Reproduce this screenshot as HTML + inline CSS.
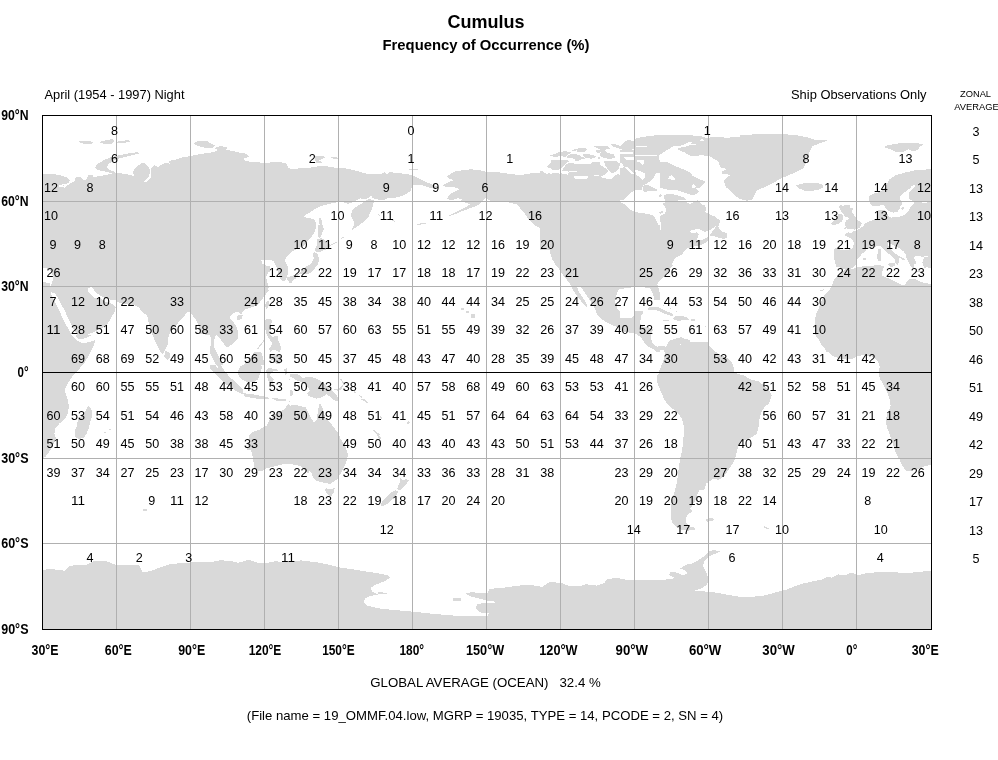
<!DOCTYPE html>
<html><head><meta charset="utf-8"><title>Cumulus - Frequency of Occurrence</title>
<style>
html,body{margin:0;padding:0;background:#fff}
body{width:998px;height:760px;position:relative;overflow:hidden;font-family:"Liberation Sans",sans-serif;color:#000}
.t{position:absolute;white-space:nowrap;line-height:1}
</style></head><body>
<svg width="998" height="760" viewBox="0 0 998 760" style="position:absolute;left:0;top:0">
<defs><clipPath id="c"><rect x="43" y="116" width="888" height="513"/></clipPath></defs>
<g clip-path="url(#c)" shape-rendering="crispEdges"><g fill="#d9d9d9"><polygon points="77.1,141.7 86.1,140.7 94.1,142.1 91.1,144.1 83.1,143.7"/><polygon points="99.1,142.1 108.1,139.7 113.1,139.1 114.5,141.7 110.1,144.5 104.1,144.1"/><polygon points="117.2,141.7 128.2,140.1 129.8,141.7 122.2,143.3 117.8,143.3"/><polygon points="95.1,167.1 98.1,163.7 104.1,160.1 111.1,157.1 120.2,155.1 130.2,153.1 138.2,152.1 138.6,153.7 130.2,155.7 120.2,158.1 114.5,160.5 109.1,163.3 107.1,167.1 109.7,170.1 114.5,171.7 116.2,173.7 112.1,173.3 106.1,171.7 100.1,170.5 96.1,169.1"/><polygon points="193.3,143.7 198.3,140.5 206.3,140.5 210.3,143.1 215.4,145.7 212.3,147.7 204.3,147.7 198.3,146.1"/><polygon points="214.3,148.1 220.4,146.1 227.4,147.1 226.4,149.7 218.4,150.1"/><polygon points="40.0,173.7 52.0,173.7 60.0,175.3 67.1,177.7 70.1,180.5 68.1,183.3 62.4,184.5 65.7,186.2 70.1,183.7 75.1,180.5 75.7,177.3 81.1,176.9 83.1,180.1 87.1,179.3 87.7,175.3 92.1,174.5 93.3,176.9 100.1,176.1 108.1,174.5 114.5,172.9 120.2,173.3 126.2,174.1 131.2,175.3 134.6,176.1 132.6,172.5 135.2,168.1 140.2,164.1 143.4,162.5 146.2,164.9 149.0,167.7 151.4,168.1 154.6,165.3 158.2,166.9 160.6,164.9 166.3,162.5 170.3,164.1 168.7,160.9 176.3,159.5 182.3,157.3 190.3,156.1 198.3,154.5 206.3,153.1 214.3,152.1 217.2,150.1 224.4,149.5 232.4,150.9 240.0,152.9 240.0,259.9 40.0,259.9"/></g><g fill="#fff"><polygon points="149.4,168.1 151.0,168.5 151.4,173.1 150.6,177.7 148.2,180.5 145.0,182.5 144.2,181.3 147.0,178.9 149.2,176.1 149.8,172.1"/><polygon points="59.6,184.9 66.1,186.0 64.8,187.6 59.0,187.0"/></g><g fill="#d9d9d9"><polygon points="240.0,152.9 246.0,153.7 249.0,156.5 244.0,158.5 245.0,161.3 252.0,161.7 260.0,162.5 270.1,162.5 278.1,161.7 287.1,163.7 288.1,168.1 294.1,169.3 300.1,168.1 308.1,168.1 314.1,166.9 320.2,166.1 328.2,166.5 338.2,168.1 346.2,168.5 354.2,170.1 364.2,173.3 372.3,174.1 380.3,174.5 384.3,172.1 387.3,174.1 389.3,172.1 400.3,173.3 408.3,174.1 416.4,177.1 421.4,179.7 427.4,182.5 432.4,184.5 437.4,186.6 435.4,188.6 428.4,187.4 420.4,184.5 414.3,184.5 411.3,188.2 410.3,191.2 404.3,195.2 398.3,197.2 392.3,198.2 388.3,197.8 384.3,200.2 380.3,199.8 376.3,199.2 372.3,198.2 371.3,195.2 368.3,198.2 364.2,199.2 360.2,198.2 357.2,199.8 352.2,202.6 348.2,203.8 344.2,202.6 340.2,201.8 335.2,202.6 328.2,204.2 322.2,205.8 316.2,208.2 310.1,212.2 305.1,215.2 304.1,217.2 309.1,218.2 314.1,219.2 316.2,223.2 315.8,230.2 314.5,238.3 310.1,244.3 306.1,248.3 300.1,252.3 294.1,255.3 290.1,257.3 284.1,259.9 240.0,259.9"/><polygon points="350.8,214.0 353.0,209.4 357.6,205.8 362.2,203.2 368.3,199.2 373.9,199.8 373.3,204.2 371.9,209.4 369.7,213.2 368.3,217.8 365.3,220.0 362.0,223.0 359.0,225.2 356.0,227.4 352.4,230.0 351.6,229.0 353.8,226.0 354.2,223.0 353.0,220.0 351.6,217.0"/><polygon points="319.2,218.2 321.2,218.2 322.2,224.2 323.2,230.2 324.2,235.3 322.6,238.3 321.2,234.2 320.2,228.2 319.2,222.2"/><polygon points="315.2,156.5 322.2,155.7 325.2,157.3 322.2,158.9 319.2,160.5 322.2,162.5 316.2,162.5 314.5,159.3"/><polygon points="329.8,156.5 338.2,157.7 339.2,158.9 333.2,158.9"/><polygon points="409.3,169.3 417.4,168.5 418.0,170.1 410.3,170.5"/><polygon points="377.9,213.8 380.3,215.0 379.9,216.2 377.5,215.0"/><polygon points="392.3,219.8 395.5,221.0 394.7,221.8 391.9,220.6"/><polygon points="416.4,224.2 420.4,223.4 426.4,222.8 426.4,223.8 420.4,224.6 416.8,225.2"/></g><g fill="#d9d9d9"><polygon points="456.0,171.1 470.1,169.3 480.1,170.1 486.5,172.1 500.1,172.5 508.1,173.7 520.2,175.1 528.2,173.7 540.2,172.5 552.2,172.5 560.2,173.1 560.2,259.9 552.2,259.9 551.2,252.3 552.2,246.3 553.2,240.3 550.2,234.2 546.2,230.2 540.2,228.2 534.2,225.2 529.2,220.2 525.2,214.2 520.2,208.2 516.2,204.2 508.1,202.2 498.1,201.2 490.1,200.6 485.1,198.2 483.1,200.2 480.1,203.2 477.1,205.8 470.1,208.2 462.0,211.2 454.0,214.6 448.0,216.2 452.0,214.2 458.0,211.2 464.0,208.2 470.1,204.2 466.1,202.6 460.0,202.2 462.0,199.2 458.0,198.2 452.0,200.2 447.0,199.2 448.0,196.2 451.0,193.2 456.0,191.2 460.0,189.2 454.0,187.2 446.0,187.2 443.0,185.2 448.0,182.5 454.0,180.1 450.0,179.1 447.0,176.1 452.0,173.1"/><polygon points="560.2,230.2 640.0,230.2 640.0,259.9 560.2,259.9"/></g><g fill="#d9d9d9"><polygon points="540.0,171.5 549.0,173.6 552.0,172.5 559.9,173.0 568.9,172.3 570.1,169.8 564.0,168.5 562.4,166.1 564.0,163.0 568.9,162.2 576.1,164.3 585.7,164.9 591.6,162.4 599.0,162.2 600.1,164.9 603.8,167.2 607.3,169.8 608.0,172.0 604.9,174.6 601.2,176.3 602.5,178.4 612.1,178.7 614.5,176.3 617.6,173.6 620.8,175.5 619.5,179.4 623.0,177.5 624.8,174.6 623.0,172.0 619.4,170.2 623.0,166.1 626.6,164.9 631.4,169.8 634.4,171.5 636.2,169.3 642.6,168.5 645.8,162.1 652.2,160.5 659.4,162.1 661.8,166.9 666.7,168.5 673.1,172.0 668.3,174.1 661.8,173.3 658.6,175.7 657.0,179.7 652.2,181.3 645.8,181.0 644.2,184.5 646.6,187.7 642.6,189.6 637.8,190.9 634.6,191.7 629.0,194.1 624.2,198.1 623.4,202.9 627.4,204.5 631.4,208.6 637.8,211.0 644.2,213.7 650.6,215.0 654.1,216.6 655.8,219.8 657.8,223.8 660.2,224.9 660.2,249.9 540.0,249.9"/><polygon points="547.9,166.1 550.9,160.6 562.8,160.1 562.8,163.0 561.0,166.1 559.9,169.8 552.0,169.8"/><polygon points="550.4,155.3 556.0,153.7 560.8,152.4 561.6,154.8 557.6,156.5 552.8,156.9"/><polygon points="560.8,151.6 574.5,148.9 586.5,148.4 587.3,150.8 578.5,151.6 576.1,154.0 583.3,154.0 588.1,153.2 594.5,155.7 595.3,158.5 588.1,159.7 580.1,159.7 572.1,158.9 565.7,156.5 562.4,154.0"/><polygon points="594.5,146.0 607.3,145.7 610.5,148.4 604.1,150.0 607.3,153.2 613.7,154.0 615.4,157.3 610.5,158.9 604.1,158.1 599.3,155.7 600.9,152.4 596.9,150.0"/><polygon points="610.5,143.6 615.4,144.1 620.2,146.0 623.4,142.8 627.4,139.9 633.8,140.9 633.8,149.2 629.8,150.0 623.4,150.0 618.6,148.4 613.7,146.8"/><polygon points="604.1,161.3 615.4,160.5 620.2,163.7 618.6,168.5 615.4,172.0 611.3,173.3 608.1,170.1 605.7,166.1"/><polygon points="634.6,141.2 636.2,138.0 652.2,135.6 668.3,134.8 687.5,134.8 703.4,136.4 707.4,138.3 705.0,140.6 698.7,141.9 690.7,143.1 684.3,146.0 677.9,148.9 673.1,151.6 668.3,154.0 663.4,155.7 659.4,158.9 652.2,159.7 645.8,158.5 639.4,158.9 636.2,160.5 634.6,158.9 634.6,149.2"/><polygon points="644.0,162.9 652.1,161.3 660.1,161.3 668.1,164.5 676.1,167.7 684.1,170.1 690.5,174.1 697.0,178.1 703.4,180.5 705.8,182.9 701.8,185.3 697.0,187.7 699.4,191.7 695.4,193.3 690.5,190.9 687.3,193.3 683.3,191.7 679.3,187.7 675.3,184.5 674.5,178.1 671.3,174.1 664.9,172.0 658.5,172.0 654.5,174.9 648.9,176.5 644.0,173.3 642.4,167.7"/><polygon points="620.0,161.3 629.6,160.5 636.0,162.1 642.4,167.7 644.0,173.3 648.9,176.5 654.5,174.9 654.5,182.9 648.9,185.3 644.0,184.5 639.2,182.9 636.0,178.1 629.6,178.1 626.4,171.7 620.0,170.1"/><polygon points="644.0,185.3 652.1,184.5 660.1,186.1 660.9,189.6 655.3,191.7 647.3,190.9 643.2,188.5"/><polygon points="663.3,194.9 672.9,194.1 684.1,195.7 687.3,200.5 692.1,202.1 697.0,201.3 700.2,203.7 705.0,208.6 707.4,213.4 714.6,216.6 719.4,219.8 716.2,223.8 713.0,226.2 716.2,229.4 722.6,232.6 725.8,235.8 726.6,239.0 722.6,240.6 716.2,239.0 711.4,242.2 709.8,245.4 706.6,247.8 704.2,249.9 660.9,249.9 660.9,224.9 662.5,222.2 663.3,218.2 666.2,215.0 667.3,211.0 664.9,207.0 662.0,202.9 664.1,201.3 664.9,197.3"/></g><g fill="#fff"><polygon points="635.6,172.0 641.0,170.9 644.2,174.1 643.4,178.1 639.4,180.0 636.2,178.1"/><polygon points="637.8,154.0 658.6,154.0 658.6,155.2 637.8,155.2"/><polygon points="636.2,146.0 646.6,146.0 646.6,147.0 636.2,147.0"/></g><g fill="#d9d9d9"><polygon points="709.1,139.1 724.2,137.1 744.2,135.1 764.2,133.6 780.3,134.0 796.3,135.1 806.3,137.1 814.3,139.7 828.4,140.1 820.4,143.1 812.3,146.1 810.3,150.1 808.3,156.1 806.3,162.1 803.3,168.1 798.3,171.1 792.3,173.7 784.3,177.1 776.3,181.1 768.3,185.2 762.2,188.2 757.2,190.2 754.2,195.2 752.2,200.2 746.2,200.6 740.2,199.2 734.2,195.2 729.2,190.2 725.2,184.1 724.2,179.1 727.2,174.1 722.2,172.1 721.2,168.1 717.2,162.5 714.1,158.1 709.1,155.1 707.1,149.1 708.1,143.1"/><polygon points="796.3,185.2 804.3,183.1 814.3,182.5 821.4,184.1 823.4,187.2 818.4,189.8 810.3,190.6 803.3,189.8 798.3,188.2"/></g><g fill="#d9d9d9"><polygon points="796.0,185.3 802.4,183.7 812.1,182.9 820.1,183.7 823.3,186.1 820.1,189.0 812.1,190.9 804.0,190.6 799.2,188.0"/><polygon points="884.2,146.0 892.2,144.4 905.1,142.5 917.9,143.1 923.5,144.7 919.5,146.8 917.9,150.0 913.1,151.6 908.3,149.2 901.8,152.4 895.4,151.6 890.6,149.2 885.8,148.0"/><polygon points="940.0,168.5 930.7,169.3 921.1,169.8 911.5,172.0 901.8,173.6 895.4,175.7 890.6,178.1 889.0,181.3 884.2,185.3 879.4,189.3 873.0,193.3 869.8,195.7 869.0,200.5 871.4,204.5 874.6,207.0 879.4,206.6 884.2,208.6 889.0,210.2 892.2,213.4 895.4,212.6 898.6,208.6 900.2,205.4 903.4,202.9 901.8,198.9 900.2,194.9 903.4,191.7 908.3,189.3 911.5,186.1 916.3,184.5 921.1,182.9 917.9,186.9 913.1,190.1 909.9,194.1 911.5,198.1 916.3,200.2 924.3,200.5 930.7,200.2 940.0,200.2"/><polygon points="857.0,226.2 861.8,223.8 869.8,221.4 876.2,219.8 882.6,218.5 885.0,217.4 884.2,210.2 886.6,208.2 889.8,210.2 890.3,217.4 892.2,217.9 901.8,215.0 909.9,213.4 913.1,208.6 916.3,204.5 921.1,202.9 930.7,202.1 940.0,202.1 940.0,249.9 832.9,249.9 844.1,245.4 847.3,242.2 844.1,239.0 844.1,235.8 850.5,233.4 855.4,230.2"/><polygon points="840.1,206.2 847.3,204.1 850.5,206.2 848.9,210.2 852.1,213.4 855.4,217.4 858.6,221.4 860.2,224.6 855.4,227.8 848.9,228.6 844.1,227.0 847.3,224.6 845.7,221.4 848.9,219.0 844.9,217.4 843.3,213.4 840.9,210.2"/><polygon points="832.9,217.4 837.7,215.0 841.7,216.6 841.7,221.4 837.7,224.6 832.9,223.8 831.3,220.6"/></g><g fill="#d9d9d9"><polygon points="40.0,255.0 240.0,255.0 240.0,309.1 232.4,312.1 229.4,317.1 231.4,322.1 235.4,324.1 240.0,325.1 240.0,359.2 237.4,363.2 232.4,361.2 228.4,356.2 226.4,351.2 227.4,346.2 224.4,341.2 221.4,338.2 217.4,336.2 214.3,339.2 214.7,345.2 216.4,351.2 218.8,359.2 221.4,366.2 225.4,372.2 230.4,377.6 235.4,381.7 238.4,385.3 235.4,385.7 230.4,382.3 225.4,377.2 220.4,371.2 216.4,364.2 213.9,356.2 211.9,349.2 209.9,341.2 207.3,336.2 202.7,335.2 200.3,332.2 198.3,325.1 195.3,319.1 192.3,315.1 190.3,311.5 187.3,312.1 184.3,316.1 180.3,320.1 176.3,325.1 170.3,331.2 168.3,337.2 168.3,343.2 165.3,349.2 162.6,354.2 160.2,351.2 158.2,347.2 155.2,341.2 152.2,334.2 150.2,327.1 148.2,321.1 147.2,315.1 143.2,313.1 140.2,309.1 138.2,305.1 132.2,304.1 124.2,302.7 116.2,302.1 110.1,300.1 106.1,298.1 100.1,296.1 95.1,292.1 91.7,287.5 88.1,288.7 91.1,294.1 96.1,299.1 101.1,302.1 108.1,300.1 112.1,303.1 115.8,307.5 115.2,313.1 111.1,319.1 106.1,325.1 100.1,330.2 94.1,334.2 86.1,338.2 79.1,339.2 76.1,336.2 72.1,329.1 68.1,319.1 64.0,312.1 60.0,303.1 56.0,294.1 53.0,292.7 51.0,287.1 52.0,276.0 48.0,273.0 42.8,272.0 40.0,272.0"/><polygon points="40.0,283.1 42.8,283.1 47.0,282.1 51.0,280.1 52.4,285.1 51.0,293.1 55.0,301.1 59.0,310.1 63.0,318.1 67.1,327.1 71.1,334.2 76.1,340.2 83.1,343.2 91.1,341.6 95.7,339.6 93.1,347.2 89.1,355.2 84.1,363.2 79.1,369.2 73.1,375.2 69.1,381.3 65.1,389.3 64.0,395.3 65.1,404.9 40.0,404.9"/><polygon points="165.3,351.2 169.3,352.2 170.3,357.2 167.3,360.2 164.2,357.2"/></g><g fill="#d9d9d9"><polygon points="230.0,235.0 313.4,235.0 313.4,239.8 310.0,244.0 306.0,248.0 300.1,252.0 294.0,255.0 290.0,257.0 285.3,260.3 286.1,263.9 287.4,269.5 286.4,276.7 283.2,281.2 278.9,279.6 277.3,273.5 276.2,267.1 275.7,262.6 273.0,259.4 269.3,256.2 264.5,256.6 261.3,259.8 262.1,263.9 266.1,265.5 270.9,265.8 274.9,267.9 272.0,270.6 268.2,272.2 266.1,276.7 266.9,281.5 268.8,286.3 267.7,291.1 266.1,295.9 264.5,300.7 262.1,305.5 258.9,309.5 254.0,312.0 249.2,313.6 244.4,315.2 239.6,317.6 237.2,321.6 238.8,325.1 236.4,327.2 233.2,324.8 230.0,324.0"/><polygon points="317.4,250.2 319.8,254.2 318.2,260.7 315.0,266.3 311.0,269.5 305.4,271.1 300.5,273.5 295.7,275.1 291.7,277.0 288.5,278.6 287.4,281.2 290.6,283.4 293.3,280.2 297.3,278.0 302.9,276.4 308.6,274.0 312.6,271.6 316.6,267.5 319.1,262.6 320.7,256.2 320.1,251.0"/><polygon points="313.4,235.0 323.0,235.0 326.2,238.2 321.4,242.2 316.6,243.0 314.2,239.8"/><polygon points="267.2,307.9 270.1,306.3 270.9,311.2 268.5,315.2 266.9,312.0"/></g><g fill="#d9d9d9"><polygon points="200.0,300.0 243.1,300.0 240.1,306.0 233.1,310.0 228.5,315.0 230.1,322.0 235.1,326.1 239.1,332.1 240.1,340.1 239.1,347.1 235.1,352.1 230.1,354.1 226.1,353.1 222.0,348.1 219.0,343.1 215.0,340.1 212.0,343.1 211.0,350.1 213.0,358.1 215.0,364.1 218.0,370.1 221.0,375.2 225.1,379.2 228.1,382.2 230.1,385.2 227.1,385.2 224.0,382.2 219.0,377.2 214.0,370.1 210.0,362.1 208.0,354.1 206.0,347.1 204.0,340.1 200.0,338.1"/><polygon points="237.1,317.6 241.7,316.8 242.5,320.0 238.5,321.2"/><polygon points="210.0,364.1 217.0,367.1 224.0,373.1 232.1,380.2 239.1,385.2 243.1,389.2 242.5,394.2 236.1,391.2 228.1,385.2 220.0,378.2 214.0,372.1 210.0,368.1"/><polygon points="243.1,393.2 252.1,394.2 260.1,395.8 268.1,397.2 269.1,399.2 260.1,399.2 251.1,397.8 244.1,396.2"/><polygon points="271.1,398.2 280.2,398.6 288.2,399.8 284.2,401.2 276.2,400.6"/><polygon points="288.2,401.2 296.2,398.2 298.2,399.8 291.2,403.2"/><polygon points="238.1,371.1 240.1,366.1 245.1,364.1 250.1,360.1 255.1,355.1 260.1,352.5 262.5,356.1 260.1,362.1 262.1,367.1 260.1,373.1 258.1,379.2 253.1,382.6 247.1,382.2 241.1,379.2 238.5,375.2"/><polygon points="266.1,370.1 269.1,368.1 277.2,369.1 278.2,371.1 271.1,371.7 270.1,376.2 274.1,379.2 272.1,382.2 275.2,386.2 271.1,386.2 269.1,382.2 267.1,377.2"/><polygon points="284.2,369.1 286.6,368.1 287.2,373.1 285.2,375.2"/><polygon points="288.2,379.2 296.2,378.2 298.2,379.8 290.2,380.6"/><polygon points="265.1,320.0 270.1,319.0 272.1,325.1 271.1,332.1 274.1,337.1 279.2,341.1 277.2,343.1 272.1,340.1 268.1,335.1 266.1,328.1"/><polygon points="274.1,343.1 280.2,344.1 281.2,349.1 277.2,350.1"/><polygon points="277.2,351.1 284.2,350.1 287.2,355.1 285.2,360.1 280.2,360.1 277.2,357.1 274.1,355.1"/><polygon points="260.1,350.1 267.1,343.1 268.1,344.5 261.7,351.7"/><polygon points="292.2,375.2 300.2,373.1 306.2,376.2 312.2,377.2 320.2,379.2 328.3,382.2 334.3,386.2 338.3,390.2 341.3,395.2 340.3,399.2 334.3,397.2 330.3,394.2 324.2,394.2 320.2,396.2 316.2,394.2 311.2,391.2 308.2,386.2 302.2,383.2 297.2,382.2 294.2,379.2"/><polygon points="342.3,380.2 348.3,379.2 352.3,382.2 349.3,385.2 343.3,383.2"/><polygon points="358.3,386.2 361.3,388.2 360.3,389.8 357.9,387.8"/><polygon points="363.3,392.2 367.3,396.2 368.3,399.2 365.9,398.2 362.7,393.8"/><polygon points="374.3,430.3 377.4,433.3 381.4,438.3 380.0,439.1 376.4,435.3 373.5,431.5"/><polygon points="247.1,449.9 249.1,440.3 253.1,433.3 260.1,429.3 267.1,425.3 269.1,420.2 275.2,414.2 280.2,412.2 284.2,409.2 288.2,404.2 294.2,406.2 300.2,405.2 304.2,408.2 302.2,413.2 306.2,417.2 312.2,421.2 316.2,422.2 318.2,414.2 320.2,406.2 321.8,403.2 324.2,409.2 328.3,416.2 331.3,423.2 336.3,428.3 338.3,436.3 340.3,444.3 341.3,449.9"/></g><g fill="#d9d9d9"><polygon points="543.0,230.0 545.0,236.0 548.0,245.0 550.0,252.0 552.0,258.1 555.0,264.1 560.0,270.1 563.0,275.1 567.1,280.1 570.1,284.1 573.1,290.1 577.1,296.1 581.1,301.1 585.1,306.2 587.7,307.2 586.1,303.1 583.1,298.1 579.1,292.1 577.1,287.1 579.1,286.1 583.1,290.1 587.1,296.1 591.1,302.1 595.1,309.2 597.1,314.2 600.1,318.2 606.1,322.2 612.1,325.2 620.2,328.2 626.2,330.2 631.2,332.2 634.2,333.2 638.2,334.2 642.2,338.2 646.2,341.2 650.2,343.2 653.2,348.2 658.2,351.2 660.2,348.2 664.2,348.2 668.3,350.2 670.3,354.2 668.3,360.3 665.3,366.3 662.2,372.3 660.2,379.9 740.0,379.9 740.0,365.3 737.4,362.3 732.4,357.3 727.4,352.2 722.4,348.2 718.4,345.2 714.3,342.2 706.3,342.2 698.3,340.2 694.3,339.2 691.3,337.2 688.3,340.2 684.3,339.2 680.3,342.2 676.3,346.2 672.3,345.2 668.3,347.2 662.2,346.2 658.2,343.2 656.2,338.2 657.2,332.2 656.2,328.2 652.2,326.2 644.2,326.2 641.2,324.2 640.2,321.2 642.2,316.2 643.2,310.2 640.2,309.2 635.2,310.2 632.2,313.2 626.2,314.2 620.2,312.2 617.2,308.2 615.2,302.1 616.2,296.1 618.2,290.1 620.2,289.1 626.2,288.1 634.2,287.1 642.2,287.1 648.2,288.1 652.2,288.1 655.2,290.1 657.2,296.1 658.6,300.5 660.2,297.1 659.2,290.1 657.2,284.1 660.2,280.1 665.3,275.1 670.3,268.1 675.3,263.1 680.3,258.1 684.3,254.0 688.3,249.0 692.3,244.0 694.3,242.4 694.3,230.0"/><polygon points="648.2,311.2 654.2,309.2 662.2,310.2 670.3,313.2 676.3,316.2 673.3,317.8 666.3,315.8 658.2,313.2 650.2,313.2"/><polygon points="678.3,316.2 686.3,315.8 692.3,318.2 688.3,320.6 680.3,320.2 677.3,318.2"/><polygon points="665.3,320.2 670.3,320.2 669.9,321.8 665.3,321.6"/><polygon points="695.3,319.2 699.3,319.2 699.3,320.6 695.3,320.6"/><polygon points="710.3,341.2 712.7,341.2 712.3,343.2 710.3,342.8"/></g><g fill="#d9d9d9"><polygon points="620.0,242.9 700.2,244.5 695.4,245.3 690.5,246.9 687.3,249.3 684.1,251.7 680.9,254.1 675.3,258.1 671.3,262.1 668.1,267.0 664.9,271.8 660.9,277.4 656.1,283.0 654.5,287.8 658.5,294.2 660.1,302.2 657.7,307.0 655.3,302.2 652.9,294.2 649.7,287.8 644.0,286.5 620.0,286.2"/><polygon points="695.4,245.3 700.2,244.5 705.0,242.1 707.4,239.7 709.8,236.5 716.2,234.9 722.6,235.7 726.6,238.1 724.2,240.0 717.8,239.4 713.0,240.3 709.8,242.3 706.6,244.5 704.2,250.0 695.4,250.0"/></g><g fill="#fff"><polygon points="689.3,233.0 693.7,230.1 700.2,228.5 705.0,229.3 707.4,232.0 709.8,236.5 706.6,238.9 702.6,236.2 698.6,238.1 693.7,235.7"/></g><g fill="#d9d9d9"><polygon points="663.1,346.0 666.1,344.0 672.1,341.0 680.1,340.0 708.2,340.0 709.2,348.0 712.2,356.0 718.2,360.0 726.2,363.0 732.2,368.1 735.2,372.1 740.2,374.1 748.3,377.1 756.3,380.1 764.3,383.1 769.3,388.1 771.3,394.1 769.3,400.1 765.3,406.1 761.3,412.1 759.3,420.2 758.3,428.2 756.3,434.2 750.3,438.2 744.2,440.2 739.2,444.2 737.2,450.2 735.2,458.2 732.2,464.2 728.2,470.3 724.2,476.3 718.2,480.3 714.2,478.3 711.2,480.3 706.2,483.3 704.2,489.9 675.1,489.9 677.1,482.3 678.1,474.3 679.1,466.3 680.1,458.2 682.1,450.2 683.1,442.2 683.7,434.2 683.7,426.2 682.1,419.2 678.1,413.1 673.1,409.1 668.1,405.1 664.1,399.1 661.1,392.1 658.1,385.1 656.7,379.1 657.1,373.1 659.1,366.1 661.1,360.0 663.1,352.0"/><polygon points="644.0,340.0 648.1,344.0 654.1,348.0 659.1,349.0 663.1,346.0 663.1,352.0 658.1,352.4 652.1,351.0 646.1,346.0 642.0,341.6"/></g><g fill="#d9d9d9"><polygon points="678.5,470.0 677.0,482.3 675.1,489.9 672.9,497.3 671.3,504.5 670.5,511.7 670.8,518.1 672.9,523.7 676.1,526.9 680.9,529.6 688.1,530.6 694.5,529.6 695.3,528.0 689.7,526.4 686.5,522.9 685.7,518.1 688.1,514.1 692.1,511.7 690.5,508.5 692.9,504.5 695.3,500.5 696.9,495.7 699.3,490.8 701.7,486.0 703.3,482.8 708.1,481.2 710.5,479.6 714.5,478.8 715.4,474.8 713.7,470.0"/><polygon points="705.7,519.7 710.5,518.1 714.5,518.9 712.9,521.0 707.3,521.6"/><polygon points="763.4,526.1 766.7,526.9 769.1,529.0 767.5,529.3 764.2,527.4"/><polygon points="742.6,544.5 745.0,544.5 745.0,545.4 742.6,545.4"/></g><g fill="#d9d9d9"><polygon points="843.3,225.0 845.0,229.3 842.4,232.7 845.8,235.2 850.1,238.6 851.8,243.7 850.1,247.1 845.0,247.1 838.1,246.8 834.4,248.9 833.9,255.7 834.7,261.6 836.4,266.7 841.6,267.6 845.8,269.0 850.1,266.7 856.9,265.0 862.0,259.1 863.7,254.0 865.4,250.6 872.2,248.9 877.3,248.0 880.7,250.6 885.8,254.0 891.0,259.1 894.4,263.3 897.8,267.6 899.5,271.0 901.2,268.4 899.5,265.0 902.0,263.3 899.5,260.8 895.2,257.4 891.8,253.1 889.3,249.7 892.7,248.0 896.1,248.9 899.5,253.1 904.6,258.2 908.0,262.5 909.7,267.6 912.2,271.8 914.8,274.7 918.2,274.1 916.5,269.3 919.1,266.7 920.8,263.3 923.3,259.1 928.4,258.2 931.0,257.7 931.0,225.0"/><polygon points="922.5,259.1 931.0,258.2 931.0,268.4 925.9,269.0 922.5,266.7"/><polygon points="845.8,269.3 851.8,269.6 858.6,267.6 865.4,265.9 872.2,265.5 879.0,265.0 885.8,264.5 889.3,265.9 888.4,271.0 891.0,274.4 896.1,277.8 901.2,281.2 906.3,283.8 911.4,282.1 916.5,279.5 919.9,279.9 925.0,282.1 931.0,282.9 931.0,352.1 826.2,352.1 824.5,347.7 821.1,344.3 818.6,339.1 816.0,334.0 814.6,327.2 815.1,320.4 816.0,313.6 818.6,308.5 821.1,301.7 824.5,294.8 828.8,290.6 832.2,286.3 833.0,281.2 835.6,277.8 838.1,274.4 841.6,271.8"/><polygon points="892.7,270.1 898.6,269.6 897.8,273.6 893.5,272.7"/><polygon points="877.3,258.2 880.7,257.4 881.1,265.0 877.7,265.5"/><polygon points="878.7,250.6 880.7,250.2 881.1,256.5 879.0,256.5"/><polygon points="918.2,277.0 924.2,277.0 924.2,278.2 918.2,278.2"/><polygon points="865.4,261.6 868.8,261.1 868.8,262.5 865.7,262.6"/><polygon points="819.4,290.6 823.7,289.4 823.8,290.4 819.7,291.4"/></g><g fill="#d9d9d9"><polygon points="814.7,330.0 815.7,335.9 819.6,340.9 824.5,345.8 828.5,351.7 832.4,355.7 839.3,358.6 847.2,359.6 853.2,358.6 857.1,355.7 865.0,355.3 872.9,356.6 877.8,361.6 879.8,366.5 878.8,372.4 879.8,378.4 883.7,385.3 887.7,393.2 889.7,400.1 890.7,406.0 887.7,412.9 885.7,419.8 886.7,426.7 889.7,434.6 892.6,443.5 895.6,452.4 899.5,459.3 902.5,466.2 906.4,471.1 912.4,470.5 918.3,468.6 924.2,466.6 932.1,464.2 932.1,330.0"/></g><g fill="#d9d9d9"><polygon points="40.0,370.0 74.5,370.0 71.3,374.8 67.3,381.2 64.8,387.6 65.7,394.0 68.1,400.5 68.9,407.7 67.3,414.9 64.0,419.7 59.2,423.7 55.2,428.5 54.4,433.3 56.0,438.1 53.6,443.7 51.2,448.6 48.0,453.4 44.8,457.4 40.0,458.2"/><polygon points="88.9,406.1 91.3,408.5 92.6,414.9 90.5,421.3 88.9,427.7 86.5,434.1 83.3,438.1 78.5,438.9 74.5,436.5 74.5,431.7 76.9,426.1 77.7,420.5 80.9,416.5 84.9,411.7 87.3,407.7"/><polygon points="104.1,431.7 105.7,431.7 105.7,433.3 104.1,433.3"/><polygon points="108.9,429.0 110.5,429.0 110.5,430.4 108.9,430.4"/></g><g fill="#d9d9d9"><polygon points="325.7,488.2 330.1,489.2 334.5,488.2 333.7,493.2 330.1,496.2 327.1,493.2"/><polygon points="399.9,477.2 402.3,480.2 406.3,479.2 408.7,480.2 406.3,484.2 403.3,487.2 400.3,490.2 397.3,489.2 398.3,485.2 400.3,482.2"/><polygon points="395.3,490.2 398.3,491.2 396.3,495.2 392.2,499.2 388.2,503.2 383.2,506.2 380.2,505.2 382.2,501.2 386.2,497.2 390.2,493.2"/><polygon points="406.3,422.0 409.3,421.0 409.9,423.0 407.3,424.0"/></g><g fill="#d9d9d9"><polygon points="288.9,410.0 287.3,413.2 283.3,415.6 278.5,417.2 273.7,420.4 269.7,423.6 266.5,426.8 262.5,429.2 256.9,430.5 252.1,432.4 248.9,435.7 248.5,440.5 250.5,446.1 251.3,451.7 252.9,457.3 253.7,462.9 254.5,467.7 257.7,470.6 262.5,470.9 266.5,468.5 272.9,466.9 279.3,465.3 285.7,463.7 292.1,464.2 297.0,465.3 301.8,466.9 305.0,470.1 307.9,473.3 309.8,470.9 311.7,473.3 313.0,477.3 316.2,480.5 321.0,482.1 325.8,482.9 330.6,484.1 333.8,481.3 337.8,478.9 340.2,474.1 343.4,468.5 345.9,462.9 347.5,457.3 347.5,452.5 345.9,447.7 343.4,442.9 340.2,438.1 338.6,432.4 336.2,427.6 333.0,423.6 330.6,418.8 329.0,414.0 327.7,410.0 318.6,410.0 317.8,416.4 316.2,422.2 313.0,421.5 310.6,418.0 308.2,413.2 307.4,410.0"/><polygon points="325.0,488.6 329.0,489.4 334.6,488.2 334.1,492.6 331.4,495.8 328.2,494.6 325.8,491.8"/></g><g fill="#d9d9d9"><polygon points="40.0,570.7 50.4,568.7 58.2,570.0 64.7,570.7 68.7,566.6 76.5,564.7 86.9,564.7 94.7,560.8 105.1,560.8 115.6,564.7 128.6,564.7 139.0,565.5 142.9,572.6 152.0,570.7 159.8,567.4 170.3,564.0 185.9,562.9 196.3,562.1 211.9,562.1 219.8,560.3 230.2,560.8 238.0,562.9 248.4,559.8 258.8,562.9 266.7,562.9 274.5,561.4 290.1,561.9 300.0,560.8 300.0,629.9 40.0,629.9"/></g><g fill="#d9d9d9"><polygon points="300.0,560.3 315.6,562.1 328.7,564.7 339.1,567.4 352.1,569.2 367.7,571.8 378.2,573.3 387.3,575.2 390.7,577.8 383.4,581.7 375.6,584.8 370.3,588.2 372.9,592.1 378.2,594.7 370.3,596.0 365.1,598.6 363.8,602.5 367.7,605.7 378.2,608.3 391.2,609.8 404.2,610.9 414.6,611.9 430.3,613.5 445.9,615.0 461.5,616.1 477.2,616.1 487.6,615.6 488.9,613.5 479.8,612.4 475.8,608.3 477.2,603.8 487.6,603.0 495.4,602.5 494.1,601.2 486.3,600.4 479.8,598.6 469.3,596.0 465.4,593.4 471.9,592.1 482.4,593.4 487.6,593.4 488.9,589.5 494.1,588.5 505.8,587.4 518.8,585.6 529.3,584.8 542.3,586.9 550.1,581.7 560.0,583.0 560.0,629.9 300.0,629.9"/><polygon points="452.4,597.8 461.5,597.8 461.0,601.2 453.7,601.5"/><polygon points="378.2,592.1 387.3,592.9 387.3,594.2 378.2,593.7"/></g><g fill="#d9d9d9"><polygon points="560.0,582.2 567.8,585.6 578.2,586.4 586.1,584.3 596.5,585.6 604.3,583.0 606.9,579.1 617.3,577.8 625.1,579.6 635.6,580.4 648.6,580.4 664.2,579.6 672.0,579.1 674.6,577.8 668.9,575.2 670.7,571.8 677.2,572.6 682.4,575.2 687.7,573.9 685.0,570.0 679.8,568.7 686.4,564.7 692.9,563.4 698.1,560.3 703.3,556.9 708.5,551.7 713.7,549.9 720.2,551.7 713.7,554.3 708.5,556.9 704.6,560.8 702.8,566.1 705.9,571.3 708.5,579.1 707.2,584.3 702.0,588.2 694.2,590.8 705.9,591.6 716.3,592.6 726.7,594.7 739.8,596.8 752.8,596.8 763.2,596.0 773.6,593.4 784.0,590.8 794.5,586.4 804.9,583.0 815.3,581.2 820.0,580.4 820.0,629.9 560.0,629.9"/></g><g fill="#d9d9d9"><polygon points="738.0,596.8 751.0,596.8 762.7,596.0 771.9,593.4 782.3,590.8 792.7,588.2 800.5,584.3 810.9,581.7 821.4,579.6 827.9,576.5 831.8,577.8 838.3,574.4 844.8,575.2 851.3,572.6 857.8,575.2 865.7,573.3 876.1,572.3 894.3,572.3 907.3,573.1 920.4,571.8 930.8,570.7 936.0,570.7 936.0,629.9 738.0,629.9"/></g><g fill="#fff"><polygon points="620.0,150.0 720.0,150.0 720.0,224.9 620.0,224.9"/></g><g fill="#d9d9d9"><polygon points="620.0,150.0 670.1,150.0 663.1,152.5 658.6,155.5 658.6,160.0 663.1,160.8 668.1,162.8 674.1,165.8 680.1,168.0 686.1,170.0 692.1,174.0 696.2,177.6 706.2,182.1 702.2,185.1 699.2,187.6 694.1,184.6 691.1,185.3 695.2,188.1 699.2,191.1 696.2,194.1 692.1,195.1 685.1,193.1 680.1,191.1 674.1,188.6 672.1,184.6 676.1,180.6 672.1,176.6 668.1,175.1 663.1,173.5 658.1,172.8 655.1,174.0 654.1,177.1 650.1,181.1 646.1,184.1 643.0,185.1 641.5,190.1 635.0,190.1 629.0,194.1 624.0,200.1 620.0,200.1"/><polygon points="662.1,187.6 665.1,185.6 670.1,185.1 674.1,188.6 680.1,191.1 676.1,190.1 672.1,189.6 668.1,189.6 664.1,189.3"/><polygon points="666.1,178.6 670.1,176.9 673.1,178.6 671.1,180.6 667.1,180.6"/><polygon points="643.0,185.6 648.1,185.1 653.1,187.6 658.6,190.1 655.1,191.1 650.1,190.6 645.1,192.1 642.5,189.6"/><polygon points="664.1,194.6 672.1,194.1 680.1,196.1 685.1,198.1 686.1,200.1 676.1,200.6 665.1,200.6 664.1,197.1"/><polygon points="658.6,195.1 661.1,194.1 662.1,195.6 659.6,197.3"/><polygon points="663.1,203.1 667.1,202.1 676.1,201.6 685.1,201.1 690.1,204.1 694.1,202.1 697.2,200.1 700.2,202.1 703.2,206.1 706.2,210.1 708.2,214.1 720.0,220.1 720.0,224.9 661.1,224.9 660.1,220.1 659.6,216.1 664.1,214.1 666.6,211.1 665.1,207.1 663.1,204.6"/><polygon points="659.1,212.1 662.1,210.9 663.1,212.3 660.1,213.9"/><polygon points="620.0,202.1 624.0,204.1 628.0,207.1 631.0,210.1 636.0,212.1 642.0,213.1 649.1,214.1 654.1,216.1 656.1,220.1 658.1,224.9 620.0,224.9"/><polygon points="679.1,150.0 720.0,150.0 720.0,170.0 719.2,166.0 717.2,161.0 713.2,157.0 708.2,155.0 700.2,155.5 694.1,156.0 690.1,154.5 684.1,152.5"/></g><g fill="#fff"><polygon points="635.0,169.5 640.0,171.0 644.5,173.0 645.1,177.1 642.5,179.6 639.5,177.1 636.0,174.5"/><polygon points="626.0,166.5 629.0,168.0 634.0,174.0 632.0,174.5 628.0,171.0 625.0,168.0"/><polygon points="620.0,163.0 623.0,164.0 624.0,167.0 620.0,168.5"/><polygon points="635.0,155.0 657.1,154.8 657.3,156.0 635.0,156.2"/><polygon points="637.0,160.0 644.0,159.8 644.5,161.8 643.0,165.0 640.0,162.5 636.5,161.8"/><polygon points="620.0,152.5 633.0,152.2 633.0,153.8 620.0,154.2"/><polygon points="623.0,157.0 634.0,156.8 634.0,159.8 626.0,160.0"/></g><g fill="#fff"><polygon points="670.0,205.0 750.0,205.0 750.0,265.0 670.0,265.0"/></g><g fill="#d9d9d9"><polygon points="670.0,205.0 704.5,205.0 706.1,208.2 705.3,212.2 708.5,213.4 711.7,215.4 714.9,216.6 718.1,219.0 720.1,221.0 719.3,224.2 718.1,227.0 722.1,231.5 726.9,233.1 727.1,237.9 724.5,238.7 719.7,238.3 717.3,237.1 713.3,235.9 710.1,236.3 710.5,233.9 712.5,231.5 714.9,228.2 716.1,226.0 713.3,227.8 710.1,229.8 707.7,231.1 705.3,231.9 702.1,230.7 698.9,229.0 692.4,229.8 689.2,232.3 693.2,232.9 697.3,232.4 698.9,234.3 697.7,237.1 697.3,239.5 700.5,240.3 703.7,239.1 707.7,237.1 708.9,238.7 707.7,241.1 704.5,243.5 701.3,244.7 697.3,245.9 692.4,246.7 687.6,248.3 684.4,250.7 682.8,253.9 678.0,256.3 674.0,259.5 671.6,265.0 670.0,265.0"/></g><g fill="#fff"><polygon points="270.0,225.0 350.0,225.0 350.0,285.0 270.0,285.0"/></g><g fill="#d9d9d9"><polygon points="270.0,225.0 316.1,225.0 315.7,228.2 314.5,232.2 312.5,235.4 310.5,237.8 308.5,240.2 306.1,243.4 303.7,245.8 300.5,247.4 296.5,249.0 292.4,251.5 289.2,254.7 286.0,257.9 284.4,260.3 286.0,262.7 287.6,265.9 288.0,269.9 287.6,274.7 286.4,278.7 284.4,281.5 282.0,281.1 280.0,277.9 278.8,273.9 277.6,269.9 276.4,266.7 274.8,263.5 273.2,260.7 270.0,259.9"/><polygon points="313.7,251.5 317.3,253.5 318.5,257.1 318.9,261.1 317.3,265.1 314.9,268.3 312.5,270.7 310.1,273.1 307.7,274.1 305.3,273.9 302.1,274.3 298.9,274.1 296.5,274.5 294.0,275.1 290.0,276.3 287.2,277.5 287.2,279.5 288.4,281.1 289.2,283.5 291.6,282.7 293.2,280.3 295.7,278.7 296.9,276.7 299.7,273.1 302.1,270.7 304.5,268.7 306.1,266.7 309.3,265.1 311.7,262.7 313.7,258.7 313.3,255.5"/><polygon points="317.3,239.4 321.3,238.2 326.1,241.0 329.3,243.4 330.9,245.8 327.7,249.0 324.5,249.8 321.3,251.5 318.1,252.3 315.7,251.5 314.9,249.0 316.5,245.8 317.3,242.6"/><polygon points="318.1,225.0 323.3,225.0 323.7,229.8 322.1,233.0 321.3,236.2 320.1,237.8 318.1,237.0 318.1,233.0"/><polygon points="330.9,244.6 337.3,241.4 337.7,242.0 331.3,245.2"/><polygon points="340.5,238.6 343.7,236.6 344.1,237.2 340.9,239.2"/></g><g fill="#fff"><polygon points="200.0,290.0 300.0,290.0 300.0,364.9 200.0,364.9"/></g><g fill="#d9d9d9"><polygon points="200.0,290.0 269.1,290.0 266.1,294.0 263.1,298.0 260.1,302.0 257.1,305.0 253.1,307.0 248.1,308.5 244.1,310.0 242.6,311.5 242.1,314.5 240.1,314.0 238.6,311.5 236.1,311.8 233.1,313.2 230.6,315.6 230.1,318.6 232.1,320.1 234.1,323.1 236.1,326.1 237.6,330.1 238.1,334.1 237.9,338.1 235.1,341.1 232.1,344.1 229.1,346.6 226.6,347.6 224.0,344.1 221.5,340.6 219.0,337.1 216.5,335.1 215.0,337.1 214.0,341.1 213.5,345.1 215.0,349.1 217.0,353.1 219.0,357.1 221.5,361.1 223.5,364.9 216.0,364.9 214.0,361.1 212.0,357.1 210.0,353.1 209.5,349.1 210.5,346.1 211.5,342.1 211.0,338.1 210.0,335.6 206.0,334.6 200.0,334.1"/><polygon points="236.6,316.6 239.1,314.8 242.6,315.3 242.1,318.1 239.6,320.3 237.1,320.1"/><polygon points="266.1,302.0 268.6,300.5 269.6,303.0 268.1,307.0 266.3,309.0 265.1,306.0"/><polygon points="265.1,319.6 271.1,319.1 272.1,322.1 270.1,326.1 269.1,330.1 270.1,334.1 272.1,337.1 275.2,336.1 278.2,336.1 277.7,340.1 280.2,344.1 281.2,349.1 279.2,352.1 275.2,350.1 272.1,350.1 270.1,352.1 269.1,349.1 271.1,346.1 272.1,343.1 270.1,340.1 268.1,337.1 266.1,333.1 265.1,328.1 265.1,323.1"/><polygon points="257.1,348.6 263.6,340.1 264.3,340.9 258.1,349.3"/><polygon points="254.4,352.3 260.1,351.9 262.1,354.1 263.1,358.1 264.1,362.1 264.1,364.9 243.1,364.9 249.4,359.1"/><polygon points="270.1,355.1 274.1,354.1 279.2,354.1 281.7,357.1 281.2,361.1 279.2,364.1 276.2,363.6 274.1,361.1 271.6,360.1 269.6,358.1"/></g><g fill="#fff"><polygon points="840.0,225.0 940.0,225.0 940.0,299.9 840.0,299.9"/></g><g fill="#d9d9d9"><polygon points="864.0,225.0 932.2,225.0 932.2,268.1 930.2,267.9 927.2,267.3 924.7,267.9 923.2,265.1 922.4,262.2 923.2,259.1 924.4,257.3 920.2,256.3 916.2,256.3 913.9,256.9 914.9,259.6 916.3,263.5 914.1,263.9 914.6,267.1 912.5,268.1 910.1,265.1 908.8,262.2 906.6,258.6 905.6,254.6 904.1,251.9 900.1,248.8 896.1,246.8 892.6,244.8 889.6,243.0 887.3,242.2 887.9,244.8 889.9,248.2 892.6,251.3 896.1,254.1 900.6,257.1 904.1,258.6 904.9,260.3 902.6,259.6 900.1,257.6 898.9,258.3 899.3,261.1 897.6,264.6 895.7,263.9 895.1,260.1 892.0,255.9 887.1,252.9 884.1,250.1 882.4,247.5 879.1,245.3 875.0,247.2 870.3,248.3 866.6,249.0 865.1,251.3 861.5,254.1 859.5,257.1 857.0,259.6 856.5,263.1 854.0,267.1 850.0,269.1 846.0,269.6 843.8,269.2 840.0,268.1 840.0,249.8 849.0,249.5 851.4,248.6 853.2,247.4 853.8,243.2 853.2,240.2 851.4,239.0 849.0,237.2 845.4,235.7 844.8,234.2 847.8,232.4 852.0,233.0 853.2,230.3 856.8,229.7 859.8,228.8 861.0,226.7"/><polygon points="840.0,225.0 856.5,225.0 856.2,229.4 849.0,229.1 843.0,229.4 840.0,229.0"/><polygon points="840.0,272.1 843.8,270.6 846.0,270.1 852.0,269.1 857.0,267.3 864.0,266.1 873.1,265.6 880.1,265.1 884.1,266.3 882.6,270.1 881.6,275.1 885.1,277.1 890.1,279.1 896.1,282.1 902.1,285.1 905.1,285.6 906.1,282.1 909.1,279.1 914.1,278.6 919.2,281.1 925.2,283.1 932.2,284.3 932.2,299.9 840.0,299.9"/><polygon points="878.3,249.0 880.5,249.2 880.7,253.7 880.9,255.1 880.8,260.7 877.6,260.9 877.3,254.7 878.5,253.5"/><polygon points="887.8,263.6 895.2,263.0 894.6,265.6 892.1,267.3 889.1,266.1"/><polygon points="862.5,258.4 866.1,258.1 866.3,259.6 862.8,260.1"/><polygon points="914.9,271.1 922.0,271.1 922.0,272.1 914.9,272.1"/></g><g fill="#fff"><polygon points="924.0,255.7 928.2,255.7 928.2,257.1 924.0,257.1"/></g><g fill="#fff"><polygon points="840.0,160.0 940.0,160.0 940.0,224.9 840.0,224.9"/></g><g fill="#d9d9d9"><polygon points="932.2,169.0 926.2,169.5 920.2,170.0 914.1,170.5 910.1,171.5 905.1,172.5 900.1,174.0 895.1,175.5 892.1,177.5 889.1,179.5 888.1,181.5 887.1,184.0 884.1,189.1 880.1,192.1 874.1,193.6 870.1,195.1 868.6,198.1 869.6,201.1 870.6,204.1 872.1,205.6 876.1,206.1 880.1,205.6 883.1,204.6 885.1,207.1 887.1,209.6 890.1,211.6 893.1,212.6 897.1,212.1 899.1,209.6 900.1,207.1 902.1,204.1 902.6,202.1 900.1,199.1 900.1,196.1 902.1,194.1 906.1,191.1 910.1,188.1 912.1,185.6 915.2,185.1 914.1,187.6 911.1,190.1 909.1,193.1 908.6,196.1 909.6,199.1 912.1,200.6 914.6,201.3 913.6,203.6 911.6,205.6 910.1,207.6 909.1,210.1 907.1,213.1 904.1,215.1 900.1,216.6 895.1,217.3 891.1,217.6 888.1,216.1 887.1,213.1 884.1,210.1 881.1,209.6 878.6,210.1 877.6,213.1 878.1,216.1 878.6,219.1 874.1,220.1 869.1,221.3 864.0,224.1 862.8,224.9 932.2,224.9"/><polygon points="901.1,207.6 904.1,207.1 904.3,209.3 901.6,209.7"/><polygon points="846.0,203.6 850.0,204.1 851.0,208.1 853.0,212.1 855.0,216.1 857.0,220.1 860.0,223.1 861.0,224.9 840.0,224.9 840.0,220.1 841.0,216.1 843.0,212.1 842.0,208.1 844.0,205.1"/></g><g fill="#fff"><polygon points="921.7,201.5 927.2,201.5 927.2,202.6 921.7,202.6"/></g><g fill="#fff"><polygon points="822.0,202.2 864.1,202.2 864.1,231.1 822.0,231.1"/></g><g fill="#d9d9d9"><polygon points="839.4,205.8 841.2,205.2 843.0,206.4 844.9,205.2 848.5,204.9 850.3,205.8 849.1,207.0 850.9,207.9 853.0,208.5 852.7,210.0 851.5,211.2 852.1,213.0 853.9,214.8 855.7,217.2 856.9,219.7 858.7,220.9 861.1,222.4 861.7,223.9 860.5,225.7 859.9,227.5 858.1,228.7 856.3,228.4 854.5,229.6 852.1,229.3 849.1,228.7 846.1,228.4 843.6,229.6 844.2,227.8 846.1,226.3 844.5,224.8 845.2,222.1 846.1,220.6 848.5,219.1 848.5,217.5 846.1,217.2 844.5,216.0 843.6,214.2 841.8,213.0 841.2,210.6 840.0,208.8 839.1,207.3"/><polygon points="838.2,214.5 841.2,214.2 843.0,216.0 842.7,219.1 841.8,221.5 839.4,223.3 836.4,224.5 833.4,225.1 831.3,223.9 832.2,222.1 834.0,220.9 835.8,219.1 837.0,216.6"/><polygon points="857.5,230.2 860.5,227.8 862.9,226.3 864.1,225.4 864.1,231.1 856.6,231.1"/></g><g fill="#fff"><polygon points="620.0,300.0 720.0,300.0 720.0,374.9 620.0,374.9"/></g><g fill="#d9d9d9"><polygon points="620.0,318.0 626.0,318.5 632.0,318.0 633.5,316.0 634.0,312.0 637.5,310.5 642.5,311.0 643.0,313.0 641.2,316.0 640.5,320.0 640.0,323.5 641.5,326.3 646.1,327.1 650.1,327.6 653.1,329.1 652.1,332.1 650.6,334.6 651.1,338.1 652.1,342.1 654.6,345.1 657.1,346.9 660.1,345.9 663.1,345.6 665.6,347.1 667.1,345.1 668.1,342.1 671.1,340.1 676.1,338.6 680.1,337.6 681.6,336.9 684.1,338.6 688.1,339.6 692.1,340.6 696.2,342.1 700.2,342.6 705.2,341.1 707.0,341.7 707.2,344.1 708.2,347.1 712.2,349.1 716.2,351.1 720.0,354.1 720.0,374.9 658.1,374.9 659.6,370.1 661.1,366.1 663.1,362.1 664.1,358.1 665.1,354.1 664.1,350.6 660.1,349.9 659.6,352.1 657.1,352.1 654.1,349.6 650.1,347.6 647.1,345.6 644.5,343.1 643.0,340.1 640.0,336.6 637.0,334.6 633.0,333.1 626.0,332.1 620.0,330.1"/><polygon points="647.6,309.0 650.1,307.0 654.1,306.5 659.1,307.5 663.1,309.5 667.1,311.5 671.1,313.0 674.1,315.0 672.1,316.0 668.1,315.0 664.1,313.5 660.1,311.5 656.1,310.0 652.1,309.5 649.1,310.5"/><polygon points="663.1,320.0 667.1,319.5 669.1,320.5 667.1,321.5 663.6,321.2"/><polygon points="673.1,318.5 676.1,316.0 680.1,315.5 684.1,316.5 688.1,318.0 689.1,320.0 686.1,320.5 682.1,320.0 680.1,321.5 677.1,320.5 674.1,320.0"/><polygon points="691.1,319.5 694.6,319.3 694.9,321.2 691.3,321.4"/><polygon points="705.2,325.9 706.2,326.3 706.0,327.6 705.2,327.3"/><polygon points="705.7,329.6 706.5,329.8 706.4,331.1 705.7,330.9"/><polygon points="662.6,304.5 664.1,304.5 664.1,305.5 662.6,305.5"/><polygon points="669.6,307.5 671.1,307.8 670.9,308.8 669.6,308.5"/><polygon points="675.6,310.5 677.1,310.8 676.9,311.8 675.6,311.5"/></g><g fill="#fff"><polygon points="679.6,343.6 680.9,343.6 680.9,344.9 679.6,344.9"/></g><g fill="#fff"><polygon points="690.0,330.0 790.0,330.0 790.0,404.9 690.0,404.9"/></g><g fill="#d9d9d9"><polygon points="690.0,342.5 698.0,342.2 705.0,341.8 707.2,341.5 710.0,347.0 714.0,351.0 720.1,354.5 728.1,358.6 732.1,363.1 734.1,368.1 734.6,372.6 738.1,374.1 744.1,375.6 748.1,378.1 752.1,380.1 758.1,381.1 762.1,384.1 766.2,388.1 770.2,392.1 771.7,395.1 770.2,400.1 768.2,404.9 690.0,404.9"/></g><g fill="#fff"><polygon points="290.0,360.0 390.0,360.0 390.0,434.9 290.0,434.9"/></g><g fill="#d9d9d9"><polygon points="290.0,374.0 294.0,373.5 300.0,375.0 303.0,378.5 305.0,377.5 310.0,376.5 315.1,378.0 319.1,380.0 323.1,383.0 327.1,387.1 331.1,390.1 334.1,393.1 337.1,396.1 338.6,398.6 338.1,401.1 335.1,400.6 332.1,398.6 329.1,396.1 326.1,394.1 324.1,396.1 320.1,398.1 316.1,398.6 312.0,397.1 308.0,395.6 307.0,393.1 310.0,391.1 309.0,388.1 306.0,385.1 303.0,383.0 300.0,381.5 296.0,380.0 293.0,378.0 290.0,377.0"/><polygon points="334.1,388.6 337.6,389.1 340.1,387.6 342.1,385.1 343.1,385.6 341.6,389.1 338.1,390.6 334.6,390.1"/><polygon points="340.1,379.0 341.6,379.5 344.1,382.5 343.1,383.2 341.1,381.0"/><polygon points="354.1,391.1 356.6,392.6 356.1,393.6 353.6,392.1"/><polygon points="359.1,394.6 362.1,396.6 361.6,397.6 358.9,395.6"/><polygon points="361.6,398.6 365.2,399.6 368.2,402.1 367.7,403.3 364.6,401.3 361.3,399.6"/><polygon points="380.2,416.1 381.7,416.6 382.2,419.1 380.7,418.6"/><polygon points="373.2,430.1 375.2,430.6 380.2,434.9 377.2,434.9 373.7,431.6"/><polygon points="290.0,405.6 296.0,405.1 302.0,406.6 306.0,407.1 307.0,410.1 309.0,414.1 311.5,419.1 314.0,422.1 316.6,420.1 318.1,410.1 319.1,404.1 320.1,403.3 322.1,407.1 323.6,412.1 325.1,417.1 328.1,421.1 332.1,425.1 335.1,429.1 337.6,432.1 338.6,434.9 290.0,434.9"/><polygon points="290.0,390.1 292.5,390.6 293.0,395.1 291.0,396.1 290.0,395.6"/></g><g fill="#d9d9d9"><polygon points="461.0,308.0 464.0,308.0 464.0,310.0 461.0,310.0"/><polygon points="466.0,311.0 469.0,311.0 469.0,313.0 466.0,313.0"/><polygon points="471.0,314.0 475.0,314.0 475.0,318.0 471.0,318.0"/><polygon points="143.0,509.0 147.0,509.0 147.0,511.0 143.0,511.0"/></g><g fill="#fff"><polygon points="40.0,260.0 140.0,260.0 140.0,334.9 40.0,334.9"/></g><g fill="#d9d9d9"><polygon points="40.0,260.0 140.0,260.0 140.0,308.1 134.2,305.3 125.2,304.1 117.2,302.1 116.2,300.6 114.1,300.1 110.1,299.6 106.1,298.6 101.1,296.1 97.1,293.6 94.1,290.1 91.1,287.1 87.6,288.1 88.1,291.1 91.1,295.1 94.1,298.1 96.1,298.6 99.1,297.1 102.1,299.6 106.1,302.1 110.1,303.1 114.1,305.1 115.7,307.6 114.6,312.1 112.1,316.1 110.1,320.1 107.1,324.1 102.1,328.1 96.1,331.1 90.1,333.6 87.1,334.9 77.6,334.9 76.1,333.1 73.1,328.1 70.1,322.1 67.6,317.1 65.1,311.1 61.5,305.1 58.5,299.1 55.0,293.1 52.0,292.6 50.5,290.1 51.0,286.1 52.5,281.0 53.0,277.0 52.0,273.0 49.0,270.0 46.0,268.0 43.0,268.5 40.0,268.5"/><polygon points="40.0,281.5 43.0,281.5 47.0,283.0 50.0,283.5 50.8,288.1 51.0,293.6 54.0,300.1 57.0,306.1 60.0,312.1 62.5,318.1 65.6,324.1 69.1,330.1 71.1,334.9 40.0,334.9"/></g><g fill="#fff"><polygon points="660.0,128.0 740.0,128.0 740.0,188.0 660.0,188.0"/></g><g fill="#d9d9d9"><polygon points="660.0,135.2 688.1,135.2 700.1,136.0 706.5,138.0 708.1,137.6 716.1,137.2 726.5,137.6 740.0,137.2 740.0,188.0 726.5,188.0 724.9,184.1 724.1,180.9 726.5,177.7 730.5,175.3 728.1,174.5 721.7,173.7 722.5,171.3 726.5,169.7 724.1,168.1 719.7,167.3 719.3,163.3 716.1,160.1 712.1,157.7 708.1,155.7 700.1,155.3 693.7,156.5 690.5,156.1 684.0,152.0 680.8,151.2 676.8,149.0 680.0,147.6 684.0,147.2 689.7,145.2 696.1,145.2 695.3,144.0 690.5,143.6 692.1,142.4 689.7,142.0 684.0,144.4 680.0,146.0 673.6,146.4 670.4,148.0 664.0,152.0 660.0,154.5"/><polygon points="660.0,161.7 664.0,161.7 668.0,162.5 676.0,166.5 684.0,169.7 690.5,172.9 692.1,175.3 696.1,177.7 705.7,181.7 703.3,184.1 700.1,188.0 660.0,188.0"/></g><g fill="#fff"><polygon points="699.3,140.0 701.7,139.1 704.9,140.0 703.3,141.2 700.1,141.0"/><polygon points="669.6,176.1 672.0,175.3 676.0,179.3 673.6,180.1 670.4,179.3 667.2,179.3"/><polygon points="691.3,185.7 693.7,184.1 696.1,186.5 694.5,188.0 692.1,188.0"/></g><g fill="#fff"><polygon points="540.0,138.0 600.0,138.0 600.0,183.0 540.0,183.0"/></g><g fill="#d9d9d9"><polygon points="550.2,155.6 555.0,153.8 558.6,152.4 563.5,151.3 567.1,151.5 570.1,152.0 571.3,153.0 569.5,153.8 567.7,154.5 566.5,156.0 564.7,157.2 563.2,157.2 562.2,156.0 560.4,155.4 558.0,156.6 553.2,156.6"/><polygon points="576.1,149.4 577.9,148.3 585.7,148.2 587.8,149.3 585.7,150.3 584.8,151.5 577.3,151.5 577.0,150.3"/><polygon points="571.3,150.7 573.7,149.5 576.1,149.4 576.7,150.3 573.7,150.9"/><polygon points="566.5,156.6 568.3,155.1 571.3,154.2 576.1,154.1 579.1,155.1 580.9,156.6 583.3,157.2 584.8,157.8 584.5,159.3 579.7,159.6 578.5,160.5 574.9,160.5 574.6,159.0 572.5,158.4 568.3,158.4 566.8,157.8"/><polygon points="583.0,154.5 585.7,153.8 588.1,153.9 590.5,154.8 594.1,155.4 595.9,156.6 595.0,158.1 591.1,158.7 586.9,158.1 584.8,157.8 583.3,156.0"/><polygon points="594.1,146.4 596.5,145.8 600.0,146.1 600.0,148.8 597.7,148.5 595.9,147.6"/><polygon points="595.3,150.9 597.7,150.0 600.0,150.3 600.0,153.6 597.7,153.0 596.5,152.1"/><polygon points="597.7,157.8 600.0,156.6 600.0,159.0 598.3,158.7"/><polygon points="547.2,166.3 549.0,164.8 550.5,162.7 551.1,160.2 558.0,159.9 567.7,160.2 568.9,161.2 566.5,163.3 564.7,165.1 562.9,166.6 561.6,168.1 560.7,169.3 558.0,169.6 552.0,169.6 550.2,168.1 548.4,167.5"/><polygon points="540.0,171.1 542.4,171.4 544.8,172.9 546.6,174.1 549.0,172.6 549.9,173.8 552.0,173.5 558.6,173.2 559.8,174.1 560.7,174.1 560.7,169.3 563.2,167.5 565.3,165.1 567.1,163.6 571.3,162.7 573.7,163.3 576.1,164.2 579.1,164.5 582.1,164.3 586.9,164.5 589.9,163.9 592.3,162.4 597.7,162.1 600.0,162.4 600.0,183.0 540.0,183.0"/></g><g fill="#fff"><polygon points="561.0,168.7 564.1,165.4 565.0,166.0 563.2,168.1 562.5,170.5 568.3,171.0 568.7,172.4 568.3,174.6 562.1,174.2 561.0,172.9"/><polygon points="568.6,171.0 577.0,171.0 577.0,171.8 568.6,171.8"/><polygon points="574.3,176.5 576.1,175.9 587.5,176.0 588.1,177.1 586.9,178.6 576.1,178.9 574.6,178.0"/><polygon points="594.1,175.0 598.6,175.2 598.9,176.5 594.4,176.4"/></g></g>
<g stroke="#b0b0b0" stroke-width="1" shape-rendering="crispEdges"><line x1="116.5" y1="116" x2="116.5" y2="629"/><line x1="190.5" y1="116" x2="190.5" y2="629"/><line x1="264.5" y1="116" x2="264.5" y2="629"/><line x1="338.5" y1="116" x2="338.5" y2="629"/><line x1="412.5" y1="116" x2="412.5" y2="629"/><line x1="486.5" y1="116" x2="486.5" y2="629"/><line x1="560.5" y1="116" x2="560.5" y2="629"/><line x1="634.5" y1="116" x2="634.5" y2="629"/><line x1="708.5" y1="116" x2="708.5" y2="629"/><line x1="782.5" y1="116" x2="782.5" y2="629"/><line x1="856.5" y1="116" x2="856.5" y2="629"/><line x1="43" y1="201.5" x2="931" y2="201.5"/><line x1="43" y1="286.5" x2="931" y2="286.5"/><line x1="43" y1="458.5" x2="931" y2="458.5"/><line x1="43" y1="543.5" x2="931" y2="543.5"/></g>
<g stroke="#000" stroke-width="1" shape-rendering="crispEdges" fill="none"><line x1="43" y1="372.5" x2="931" y2="372.5"/><rect x="42.5" y="115.5" width="889" height="514"/></g>
<g font-family="Liberation Sans, sans-serif" font-size="13.33" text-anchor="middle" fill="#000"><text x="52.9" y="248.8" textLength="7" lengthAdjust="spacingAndGlyphs">9</text><text x="77.6" y="248.8" textLength="7" lengthAdjust="spacingAndGlyphs">9</text><text x="102.3" y="248.8" textLength="7" lengthAdjust="spacingAndGlyphs">8</text><text x="300.4" y="248.8" textLength="14" lengthAdjust="spacingAndGlyphs">10</text><text x="325.1" y="248.8" textLength="14" lengthAdjust="spacingAndGlyphs">11</text><text x="349.2" y="248.8" textLength="7" lengthAdjust="spacingAndGlyphs">9</text><text x="373.9" y="248.8" textLength="7" lengthAdjust="spacingAndGlyphs">8</text><text x="399.2" y="248.8" textLength="14" lengthAdjust="spacingAndGlyphs">10</text><text x="423.9" y="248.8" textLength="14" lengthAdjust="spacingAndGlyphs">12</text><text x="448.6" y="248.8" textLength="14" lengthAdjust="spacingAndGlyphs">12</text><text x="473.3" y="248.8" textLength="14" lengthAdjust="spacingAndGlyphs">12</text><text x="497.9" y="248.8" textLength="14" lengthAdjust="spacingAndGlyphs">16</text><text x="522.6" y="248.8" textLength="14" lengthAdjust="spacingAndGlyphs">19</text><text x="547.3" y="248.8" textLength="14" lengthAdjust="spacingAndGlyphs">20</text><text x="670.3" y="248.8" textLength="7" lengthAdjust="spacingAndGlyphs">9</text><text x="695.5" y="248.8" textLength="14" lengthAdjust="spacingAndGlyphs">11</text><text x="720.2" y="248.8" textLength="14" lengthAdjust="spacingAndGlyphs">12</text><text x="744.9" y="248.8" textLength="14" lengthAdjust="spacingAndGlyphs">16</text><text x="769.6" y="248.8" textLength="14" lengthAdjust="spacingAndGlyphs">20</text><text x="794.3" y="248.8" textLength="14" lengthAdjust="spacingAndGlyphs">18</text><text x="819.0" y="248.8" textLength="14" lengthAdjust="spacingAndGlyphs">19</text><text x="843.7" y="248.8" textLength="14" lengthAdjust="spacingAndGlyphs">21</text><text x="868.4" y="248.8" textLength="14" lengthAdjust="spacingAndGlyphs">19</text><text x="893.1" y="248.8" textLength="14" lengthAdjust="spacingAndGlyphs">17</text><text x="917.2" y="248.8" textLength="7" lengthAdjust="spacingAndGlyphs">8</text><text x="53.4" y="276.8" textLength="14" lengthAdjust="spacingAndGlyphs">26</text><text x="275.7" y="276.8" textLength="14" lengthAdjust="spacingAndGlyphs">12</text><text x="300.4" y="276.8" textLength="14" lengthAdjust="spacingAndGlyphs">22</text><text x="325.1" y="276.8" textLength="14" lengthAdjust="spacingAndGlyphs">22</text><text x="349.8" y="276.8" textLength="14" lengthAdjust="spacingAndGlyphs">19</text><text x="374.5" y="276.8" textLength="14" lengthAdjust="spacingAndGlyphs">17</text><text x="399.2" y="276.8" textLength="14" lengthAdjust="spacingAndGlyphs">17</text><text x="423.9" y="276.8" textLength="14" lengthAdjust="spacingAndGlyphs">18</text><text x="448.6" y="276.8" textLength="14" lengthAdjust="spacingAndGlyphs">18</text><text x="473.3" y="276.8" textLength="14" lengthAdjust="spacingAndGlyphs">17</text><text x="497.9" y="276.8" textLength="14" lengthAdjust="spacingAndGlyphs">19</text><text x="522.6" y="276.8" textLength="14" lengthAdjust="spacingAndGlyphs">22</text><text x="547.3" y="276.8" textLength="14" lengthAdjust="spacingAndGlyphs">23</text><text x="572.0" y="276.8" textLength="14" lengthAdjust="spacingAndGlyphs">21</text><text x="646.1" y="276.8" textLength="14" lengthAdjust="spacingAndGlyphs">25</text><text x="670.8" y="276.8" textLength="14" lengthAdjust="spacingAndGlyphs">26</text><text x="695.5" y="276.8" textLength="14" lengthAdjust="spacingAndGlyphs">29</text><text x="720.2" y="276.8" textLength="14" lengthAdjust="spacingAndGlyphs">32</text><text x="744.9" y="276.8" textLength="14" lengthAdjust="spacingAndGlyphs">36</text><text x="769.6" y="276.8" textLength="14" lengthAdjust="spacingAndGlyphs">33</text><text x="794.3" y="276.8" textLength="14" lengthAdjust="spacingAndGlyphs">31</text><text x="819.0" y="276.8" textLength="14" lengthAdjust="spacingAndGlyphs">30</text><text x="843.7" y="276.8" textLength="14" lengthAdjust="spacingAndGlyphs">24</text><text x="868.4" y="276.8" textLength="14" lengthAdjust="spacingAndGlyphs">22</text><text x="893.1" y="276.8" textLength="14" lengthAdjust="spacingAndGlyphs">22</text><text x="917.8" y="276.8" textLength="14" lengthAdjust="spacingAndGlyphs">23</text><text x="52.9" y="305.8" textLength="7" lengthAdjust="spacingAndGlyphs">7</text><text x="78.1" y="305.8" textLength="14" lengthAdjust="spacingAndGlyphs">12</text><text x="102.8" y="305.8" textLength="14" lengthAdjust="spacingAndGlyphs">10</text><text x="127.5" y="305.8" textLength="14" lengthAdjust="spacingAndGlyphs">22</text><text x="176.9" y="305.8" textLength="14" lengthAdjust="spacingAndGlyphs">33</text><text x="251.0" y="305.8" textLength="14" lengthAdjust="spacingAndGlyphs">24</text><text x="275.7" y="305.8" textLength="14" lengthAdjust="spacingAndGlyphs">28</text><text x="300.4" y="305.8" textLength="14" lengthAdjust="spacingAndGlyphs">35</text><text x="325.1" y="305.8" textLength="14" lengthAdjust="spacingAndGlyphs">45</text><text x="349.8" y="305.8" textLength="14" lengthAdjust="spacingAndGlyphs">38</text><text x="374.5" y="305.8" textLength="14" lengthAdjust="spacingAndGlyphs">34</text><text x="399.2" y="305.8" textLength="14" lengthAdjust="spacingAndGlyphs">38</text><text x="423.9" y="305.8" textLength="14" lengthAdjust="spacingAndGlyphs">40</text><text x="448.6" y="305.8" textLength="14" lengthAdjust="spacingAndGlyphs">44</text><text x="473.3" y="305.8" textLength="14" lengthAdjust="spacingAndGlyphs">44</text><text x="497.9" y="305.8" textLength="14" lengthAdjust="spacingAndGlyphs">34</text><text x="522.6" y="305.8" textLength="14" lengthAdjust="spacingAndGlyphs">25</text><text x="547.3" y="305.8" textLength="14" lengthAdjust="spacingAndGlyphs">25</text><text x="572.0" y="305.8" textLength="14" lengthAdjust="spacingAndGlyphs">24</text><text x="596.7" y="305.8" textLength="14" lengthAdjust="spacingAndGlyphs">26</text><text x="621.4" y="305.8" textLength="14" lengthAdjust="spacingAndGlyphs">27</text><text x="646.1" y="305.8" textLength="14" lengthAdjust="spacingAndGlyphs">46</text><text x="670.8" y="305.8" textLength="14" lengthAdjust="spacingAndGlyphs">44</text><text x="695.5" y="305.8" textLength="14" lengthAdjust="spacingAndGlyphs">53</text><text x="720.2" y="305.8" textLength="14" lengthAdjust="spacingAndGlyphs">54</text><text x="744.9" y="305.8" textLength="14" lengthAdjust="spacingAndGlyphs">50</text><text x="769.6" y="305.8" textLength="14" lengthAdjust="spacingAndGlyphs">46</text><text x="794.3" y="305.8" textLength="14" lengthAdjust="spacingAndGlyphs">44</text><text x="819.0" y="305.8" textLength="14" lengthAdjust="spacingAndGlyphs">30</text><text x="53.4" y="333.8" textLength="14" lengthAdjust="spacingAndGlyphs">11</text><text x="78.1" y="333.8" textLength="14" lengthAdjust="spacingAndGlyphs">28</text><text x="102.8" y="333.8" textLength="14" lengthAdjust="spacingAndGlyphs">51</text><text x="127.5" y="333.8" textLength="14" lengthAdjust="spacingAndGlyphs">47</text><text x="152.2" y="333.8" textLength="14" lengthAdjust="spacingAndGlyphs">50</text><text x="176.9" y="333.8" textLength="14" lengthAdjust="spacingAndGlyphs">60</text><text x="201.6" y="333.8" textLength="14" lengthAdjust="spacingAndGlyphs">58</text><text x="226.3" y="333.8" textLength="14" lengthAdjust="spacingAndGlyphs">33</text><text x="251.0" y="333.8" textLength="14" lengthAdjust="spacingAndGlyphs">61</text><text x="275.7" y="333.8" textLength="14" lengthAdjust="spacingAndGlyphs">54</text><text x="300.4" y="333.8" textLength="14" lengthAdjust="spacingAndGlyphs">60</text><text x="325.1" y="333.8" textLength="14" lengthAdjust="spacingAndGlyphs">57</text><text x="349.8" y="333.8" textLength="14" lengthAdjust="spacingAndGlyphs">60</text><text x="374.5" y="333.8" textLength="14" lengthAdjust="spacingAndGlyphs">63</text><text x="399.2" y="333.8" textLength="14" lengthAdjust="spacingAndGlyphs">55</text><text x="423.9" y="333.8" textLength="14" lengthAdjust="spacingAndGlyphs">51</text><text x="448.6" y="333.8" textLength="14" lengthAdjust="spacingAndGlyphs">55</text><text x="473.3" y="333.8" textLength="14" lengthAdjust="spacingAndGlyphs">49</text><text x="497.9" y="333.8" textLength="14" lengthAdjust="spacingAndGlyphs">39</text><text x="522.6" y="333.8" textLength="14" lengthAdjust="spacingAndGlyphs">32</text><text x="547.3" y="333.8" textLength="14" lengthAdjust="spacingAndGlyphs">26</text><text x="572.0" y="333.8" textLength="14" lengthAdjust="spacingAndGlyphs">37</text><text x="596.7" y="333.8" textLength="14" lengthAdjust="spacingAndGlyphs">39</text><text x="621.4" y="333.8" textLength="14" lengthAdjust="spacingAndGlyphs">40</text><text x="646.1" y="333.8" textLength="14" lengthAdjust="spacingAndGlyphs">52</text><text x="670.8" y="333.8" textLength="14" lengthAdjust="spacingAndGlyphs">55</text><text x="695.5" y="333.8" textLength="14" lengthAdjust="spacingAndGlyphs">61</text><text x="720.2" y="333.8" textLength="14" lengthAdjust="spacingAndGlyphs">63</text><text x="744.9" y="333.8" textLength="14" lengthAdjust="spacingAndGlyphs">57</text><text x="769.6" y="333.8" textLength="14" lengthAdjust="spacingAndGlyphs">49</text><text x="794.3" y="333.8" textLength="14" lengthAdjust="spacingAndGlyphs">41</text><text x="819.0" y="333.8" textLength="14" lengthAdjust="spacingAndGlyphs">10</text><text x="78.1" y="362.8" textLength="14" lengthAdjust="spacingAndGlyphs">69</text><text x="102.8" y="362.8" textLength="14" lengthAdjust="spacingAndGlyphs">68</text><text x="127.5" y="362.8" textLength="14" lengthAdjust="spacingAndGlyphs">69</text><text x="152.2" y="362.8" textLength="14" lengthAdjust="spacingAndGlyphs">52</text><text x="176.9" y="362.8" textLength="14" lengthAdjust="spacingAndGlyphs">49</text><text x="201.6" y="362.8" textLength="14" lengthAdjust="spacingAndGlyphs">45</text><text x="226.3" y="362.8" textLength="14" lengthAdjust="spacingAndGlyphs">60</text><text x="251.0" y="362.8" textLength="14" lengthAdjust="spacingAndGlyphs">56</text><text x="275.7" y="362.8" textLength="14" lengthAdjust="spacingAndGlyphs">53</text><text x="300.4" y="362.8" textLength="14" lengthAdjust="spacingAndGlyphs">50</text><text x="325.1" y="362.8" textLength="14" lengthAdjust="spacingAndGlyphs">45</text><text x="349.8" y="362.8" textLength="14" lengthAdjust="spacingAndGlyphs">37</text><text x="374.5" y="362.8" textLength="14" lengthAdjust="spacingAndGlyphs">45</text><text x="399.2" y="362.8" textLength="14" lengthAdjust="spacingAndGlyphs">48</text><text x="423.9" y="362.8" textLength="14" lengthAdjust="spacingAndGlyphs">43</text><text x="448.6" y="362.8" textLength="14" lengthAdjust="spacingAndGlyphs">47</text><text x="473.3" y="362.8" textLength="14" lengthAdjust="spacingAndGlyphs">40</text><text x="497.9" y="362.8" textLength="14" lengthAdjust="spacingAndGlyphs">28</text><text x="522.6" y="362.8" textLength="14" lengthAdjust="spacingAndGlyphs">35</text><text x="547.3" y="362.8" textLength="14" lengthAdjust="spacingAndGlyphs">39</text><text x="572.0" y="362.8" textLength="14" lengthAdjust="spacingAndGlyphs">45</text><text x="596.7" y="362.8" textLength="14" lengthAdjust="spacingAndGlyphs">48</text><text x="621.4" y="362.8" textLength="14" lengthAdjust="spacingAndGlyphs">47</text><text x="646.1" y="362.8" textLength="14" lengthAdjust="spacingAndGlyphs">34</text><text x="670.8" y="362.8" textLength="14" lengthAdjust="spacingAndGlyphs">30</text><text x="720.2" y="362.8" textLength="14" lengthAdjust="spacingAndGlyphs">53</text><text x="744.9" y="362.8" textLength="14" lengthAdjust="spacingAndGlyphs">40</text><text x="769.6" y="362.8" textLength="14" lengthAdjust="spacingAndGlyphs">42</text><text x="794.3" y="362.8" textLength="14" lengthAdjust="spacingAndGlyphs">43</text><text x="819.0" y="362.8" textLength="14" lengthAdjust="spacingAndGlyphs">31</text><text x="843.7" y="362.8" textLength="14" lengthAdjust="spacingAndGlyphs">41</text><text x="868.4" y="362.8" textLength="14" lengthAdjust="spacingAndGlyphs">42</text><text x="78.1" y="390.8" textLength="14" lengthAdjust="spacingAndGlyphs">60</text><text x="102.8" y="390.8" textLength="14" lengthAdjust="spacingAndGlyphs">60</text><text x="127.5" y="390.8" textLength="14" lengthAdjust="spacingAndGlyphs">55</text><text x="152.2" y="390.8" textLength="14" lengthAdjust="spacingAndGlyphs">55</text><text x="176.9" y="390.8" textLength="14" lengthAdjust="spacingAndGlyphs">51</text><text x="201.6" y="390.8" textLength="14" lengthAdjust="spacingAndGlyphs">48</text><text x="226.3" y="390.8" textLength="14" lengthAdjust="spacingAndGlyphs">44</text><text x="251.0" y="390.8" textLength="14" lengthAdjust="spacingAndGlyphs">45</text><text x="275.7" y="390.8" textLength="14" lengthAdjust="spacingAndGlyphs">53</text><text x="300.4" y="390.8" textLength="14" lengthAdjust="spacingAndGlyphs">50</text><text x="325.1" y="390.8" textLength="14" lengthAdjust="spacingAndGlyphs">43</text><text x="349.8" y="390.8" textLength="14" lengthAdjust="spacingAndGlyphs">38</text><text x="374.5" y="390.8" textLength="14" lengthAdjust="spacingAndGlyphs">41</text><text x="399.2" y="390.8" textLength="14" lengthAdjust="spacingAndGlyphs">40</text><text x="423.9" y="390.8" textLength="14" lengthAdjust="spacingAndGlyphs">57</text><text x="448.6" y="390.8" textLength="14" lengthAdjust="spacingAndGlyphs">58</text><text x="473.3" y="390.8" textLength="14" lengthAdjust="spacingAndGlyphs">68</text><text x="497.9" y="390.8" textLength="14" lengthAdjust="spacingAndGlyphs">49</text><text x="522.6" y="390.8" textLength="14" lengthAdjust="spacingAndGlyphs">60</text><text x="547.3" y="390.8" textLength="14" lengthAdjust="spacingAndGlyphs">63</text><text x="572.0" y="390.8" textLength="14" lengthAdjust="spacingAndGlyphs">53</text><text x="596.7" y="390.8" textLength="14" lengthAdjust="spacingAndGlyphs">53</text><text x="621.4" y="390.8" textLength="14" lengthAdjust="spacingAndGlyphs">41</text><text x="646.1" y="390.8" textLength="14" lengthAdjust="spacingAndGlyphs">26</text><text x="744.9" y="390.8" textLength="14" lengthAdjust="spacingAndGlyphs">42</text><text x="769.6" y="390.8" textLength="14" lengthAdjust="spacingAndGlyphs">51</text><text x="794.3" y="390.8" textLength="14" lengthAdjust="spacingAndGlyphs">52</text><text x="819.0" y="390.8" textLength="14" lengthAdjust="spacingAndGlyphs">58</text><text x="843.7" y="390.8" textLength="14" lengthAdjust="spacingAndGlyphs">51</text><text x="868.4" y="390.8" textLength="14" lengthAdjust="spacingAndGlyphs">45</text><text x="893.1" y="390.8" textLength="14" lengthAdjust="spacingAndGlyphs">34</text><text x="53.4" y="419.8" textLength="14" lengthAdjust="spacingAndGlyphs">60</text><text x="78.1" y="419.8" textLength="14" lengthAdjust="spacingAndGlyphs">53</text><text x="102.8" y="419.8" textLength="14" lengthAdjust="spacingAndGlyphs">54</text><text x="127.5" y="419.8" textLength="14" lengthAdjust="spacingAndGlyphs">51</text><text x="152.2" y="419.8" textLength="14" lengthAdjust="spacingAndGlyphs">54</text><text x="176.9" y="419.8" textLength="14" lengthAdjust="spacingAndGlyphs">46</text><text x="201.6" y="419.8" textLength="14" lengthAdjust="spacingAndGlyphs">43</text><text x="226.3" y="419.8" textLength="14" lengthAdjust="spacingAndGlyphs">58</text><text x="251.0" y="419.8" textLength="14" lengthAdjust="spacingAndGlyphs">40</text><text x="275.7" y="419.8" textLength="14" lengthAdjust="spacingAndGlyphs">39</text><text x="300.4" y="419.8" textLength="14" lengthAdjust="spacingAndGlyphs">50</text><text x="325.1" y="419.8" textLength="14" lengthAdjust="spacingAndGlyphs">49</text><text x="349.8" y="419.8" textLength="14" lengthAdjust="spacingAndGlyphs">48</text><text x="374.5" y="419.8" textLength="14" lengthAdjust="spacingAndGlyphs">51</text><text x="399.2" y="419.8" textLength="14" lengthAdjust="spacingAndGlyphs">41</text><text x="423.9" y="419.8" textLength="14" lengthAdjust="spacingAndGlyphs">45</text><text x="448.6" y="419.8" textLength="14" lengthAdjust="spacingAndGlyphs">51</text><text x="473.3" y="419.8" textLength="14" lengthAdjust="spacingAndGlyphs">57</text><text x="497.9" y="419.8" textLength="14" lengthAdjust="spacingAndGlyphs">64</text><text x="522.6" y="419.8" textLength="14" lengthAdjust="spacingAndGlyphs">64</text><text x="547.3" y="419.8" textLength="14" lengthAdjust="spacingAndGlyphs">63</text><text x="572.0" y="419.8" textLength="14" lengthAdjust="spacingAndGlyphs">64</text><text x="596.7" y="419.8" textLength="14" lengthAdjust="spacingAndGlyphs">54</text><text x="621.4" y="419.8" textLength="14" lengthAdjust="spacingAndGlyphs">33</text><text x="646.1" y="419.8" textLength="14" lengthAdjust="spacingAndGlyphs">29</text><text x="670.8" y="419.8" textLength="14" lengthAdjust="spacingAndGlyphs">22</text><text x="769.6" y="419.8" textLength="14" lengthAdjust="spacingAndGlyphs">56</text><text x="794.3" y="419.8" textLength="14" lengthAdjust="spacingAndGlyphs">60</text><text x="819.0" y="419.8" textLength="14" lengthAdjust="spacingAndGlyphs">57</text><text x="843.7" y="419.8" textLength="14" lengthAdjust="spacingAndGlyphs">31</text><text x="868.4" y="419.8" textLength="14" lengthAdjust="spacingAndGlyphs">21</text><text x="893.1" y="419.8" textLength="14" lengthAdjust="spacingAndGlyphs">18</text><text x="53.4" y="447.8" textLength="14" lengthAdjust="spacingAndGlyphs">51</text><text x="78.1" y="447.8" textLength="14" lengthAdjust="spacingAndGlyphs">50</text><text x="102.8" y="447.8" textLength="14" lengthAdjust="spacingAndGlyphs">49</text><text x="127.5" y="447.8" textLength="14" lengthAdjust="spacingAndGlyphs">45</text><text x="152.2" y="447.8" textLength="14" lengthAdjust="spacingAndGlyphs">50</text><text x="176.9" y="447.8" textLength="14" lengthAdjust="spacingAndGlyphs">38</text><text x="201.6" y="447.8" textLength="14" lengthAdjust="spacingAndGlyphs">38</text><text x="226.3" y="447.8" textLength="14" lengthAdjust="spacingAndGlyphs">45</text><text x="251.0" y="447.8" textLength="14" lengthAdjust="spacingAndGlyphs">33</text><text x="349.8" y="447.8" textLength="14" lengthAdjust="spacingAndGlyphs">49</text><text x="374.5" y="447.8" textLength="14" lengthAdjust="spacingAndGlyphs">50</text><text x="399.2" y="447.8" textLength="14" lengthAdjust="spacingAndGlyphs">40</text><text x="423.9" y="447.8" textLength="14" lengthAdjust="spacingAndGlyphs">43</text><text x="448.6" y="447.8" textLength="14" lengthAdjust="spacingAndGlyphs">40</text><text x="473.3" y="447.8" textLength="14" lengthAdjust="spacingAndGlyphs">43</text><text x="497.9" y="447.8" textLength="14" lengthAdjust="spacingAndGlyphs">43</text><text x="522.6" y="447.8" textLength="14" lengthAdjust="spacingAndGlyphs">50</text><text x="547.3" y="447.8" textLength="14" lengthAdjust="spacingAndGlyphs">51</text><text x="572.0" y="447.8" textLength="14" lengthAdjust="spacingAndGlyphs">53</text><text x="596.7" y="447.8" textLength="14" lengthAdjust="spacingAndGlyphs">44</text><text x="621.4" y="447.8" textLength="14" lengthAdjust="spacingAndGlyphs">37</text><text x="646.1" y="447.8" textLength="14" lengthAdjust="spacingAndGlyphs">26</text><text x="670.8" y="447.8" textLength="14" lengthAdjust="spacingAndGlyphs">18</text><text x="744.9" y="447.8" textLength="14" lengthAdjust="spacingAndGlyphs">40</text><text x="769.6" y="447.8" textLength="14" lengthAdjust="spacingAndGlyphs">51</text><text x="794.3" y="447.8" textLength="14" lengthAdjust="spacingAndGlyphs">43</text><text x="819.0" y="447.8" textLength="14" lengthAdjust="spacingAndGlyphs">47</text><text x="843.7" y="447.8" textLength="14" lengthAdjust="spacingAndGlyphs">33</text><text x="868.4" y="447.8" textLength="14" lengthAdjust="spacingAndGlyphs">22</text><text x="893.1" y="447.8" textLength="14" lengthAdjust="spacingAndGlyphs">21</text><text x="53.4" y="476.8" textLength="14" lengthAdjust="spacingAndGlyphs">39</text><text x="78.1" y="476.8" textLength="14" lengthAdjust="spacingAndGlyphs">37</text><text x="102.8" y="476.8" textLength="14" lengthAdjust="spacingAndGlyphs">34</text><text x="127.5" y="476.8" textLength="14" lengthAdjust="spacingAndGlyphs">27</text><text x="152.2" y="476.8" textLength="14" lengthAdjust="spacingAndGlyphs">25</text><text x="176.9" y="476.8" textLength="14" lengthAdjust="spacingAndGlyphs">23</text><text x="201.6" y="476.8" textLength="14" lengthAdjust="spacingAndGlyphs">17</text><text x="226.3" y="476.8" textLength="14" lengthAdjust="spacingAndGlyphs">30</text><text x="251.0" y="476.8" textLength="14" lengthAdjust="spacingAndGlyphs">29</text><text x="275.7" y="476.8" textLength="14" lengthAdjust="spacingAndGlyphs">23</text><text x="300.4" y="476.8" textLength="14" lengthAdjust="spacingAndGlyphs">22</text><text x="325.1" y="476.8" textLength="14" lengthAdjust="spacingAndGlyphs">23</text><text x="349.8" y="476.8" textLength="14" lengthAdjust="spacingAndGlyphs">34</text><text x="374.5" y="476.8" textLength="14" lengthAdjust="spacingAndGlyphs">34</text><text x="399.2" y="476.8" textLength="14" lengthAdjust="spacingAndGlyphs">34</text><text x="423.9" y="476.8" textLength="14" lengthAdjust="spacingAndGlyphs">33</text><text x="448.6" y="476.8" textLength="14" lengthAdjust="spacingAndGlyphs">36</text><text x="473.3" y="476.8" textLength="14" lengthAdjust="spacingAndGlyphs">33</text><text x="497.9" y="476.8" textLength="14" lengthAdjust="spacingAndGlyphs">28</text><text x="522.6" y="476.8" textLength="14" lengthAdjust="spacingAndGlyphs">31</text><text x="547.3" y="476.8" textLength="14" lengthAdjust="spacingAndGlyphs">38</text><text x="621.4" y="476.8" textLength="14" lengthAdjust="spacingAndGlyphs">23</text><text x="646.1" y="476.8" textLength="14" lengthAdjust="spacingAndGlyphs">29</text><text x="670.8" y="476.8" textLength="14" lengthAdjust="spacingAndGlyphs">20</text><text x="720.2" y="476.8" textLength="14" lengthAdjust="spacingAndGlyphs">27</text><text x="744.9" y="476.8" textLength="14" lengthAdjust="spacingAndGlyphs">38</text><text x="769.6" y="476.8" textLength="14" lengthAdjust="spacingAndGlyphs">32</text><text x="794.3" y="476.8" textLength="14" lengthAdjust="spacingAndGlyphs">25</text><text x="819.0" y="476.8" textLength="14" lengthAdjust="spacingAndGlyphs">29</text><text x="843.7" y="476.8" textLength="14" lengthAdjust="spacingAndGlyphs">24</text><text x="868.4" y="476.8" textLength="14" lengthAdjust="spacingAndGlyphs">19</text><text x="893.1" y="476.8" textLength="14" lengthAdjust="spacingAndGlyphs">22</text><text x="917.8" y="476.8" textLength="14" lengthAdjust="spacingAndGlyphs">26</text><text x="78.1" y="504.8" textLength="14" lengthAdjust="spacingAndGlyphs">11</text><text x="151.7" y="504.8" textLength="7" lengthAdjust="spacingAndGlyphs">9</text><text x="176.9" y="504.8" textLength="14" lengthAdjust="spacingAndGlyphs">11</text><text x="201.6" y="504.8" textLength="14" lengthAdjust="spacingAndGlyphs">12</text><text x="300.4" y="504.8" textLength="14" lengthAdjust="spacingAndGlyphs">18</text><text x="325.1" y="504.8" textLength="14" lengthAdjust="spacingAndGlyphs">23</text><text x="349.8" y="504.8" textLength="14" lengthAdjust="spacingAndGlyphs">22</text><text x="374.5" y="504.8" textLength="14" lengthAdjust="spacingAndGlyphs">19</text><text x="399.2" y="504.8" textLength="14" lengthAdjust="spacingAndGlyphs">18</text><text x="423.9" y="504.8" textLength="14" lengthAdjust="spacingAndGlyphs">17</text><text x="448.6" y="504.8" textLength="14" lengthAdjust="spacingAndGlyphs">20</text><text x="473.3" y="504.8" textLength="14" lengthAdjust="spacingAndGlyphs">24</text><text x="497.9" y="504.8" textLength="14" lengthAdjust="spacingAndGlyphs">20</text><text x="621.4" y="504.8" textLength="14" lengthAdjust="spacingAndGlyphs">20</text><text x="646.1" y="504.8" textLength="14" lengthAdjust="spacingAndGlyphs">19</text><text x="670.8" y="504.8" textLength="14" lengthAdjust="spacingAndGlyphs">20</text><text x="695.5" y="504.8" textLength="14" lengthAdjust="spacingAndGlyphs">19</text><text x="720.2" y="504.8" textLength="14" lengthAdjust="spacingAndGlyphs">18</text><text x="744.9" y="504.8" textLength="14" lengthAdjust="spacingAndGlyphs">22</text><text x="769.6" y="504.8" textLength="14" lengthAdjust="spacingAndGlyphs">14</text><text x="867.8" y="504.8" textLength="7" lengthAdjust="spacingAndGlyphs">8</text><text x="114.6" y="134.8" textLength="7" lengthAdjust="spacingAndGlyphs">8</text><text x="411.0" y="134.8" textLength="7" lengthAdjust="spacingAndGlyphs">0</text><text x="707.3" y="134.8" textLength="7" lengthAdjust="spacingAndGlyphs">1</text><text x="114.6" y="162.8" textLength="7" lengthAdjust="spacingAndGlyphs">6</text><text x="312.2" y="162.8" textLength="7" lengthAdjust="spacingAndGlyphs">2</text><text x="411.0" y="162.8" textLength="7" lengthAdjust="spacingAndGlyphs">1</text><text x="509.7" y="162.8" textLength="7" lengthAdjust="spacingAndGlyphs">1</text><text x="806.1" y="162.8" textLength="7" lengthAdjust="spacingAndGlyphs">8</text><text x="905.4" y="162.8" textLength="14" lengthAdjust="spacingAndGlyphs">13</text><text x="44.0" y="191.8" text-anchor="start" textLength="14" lengthAdjust="spacingAndGlyphs">12</text><text x="89.9" y="191.8" textLength="7" lengthAdjust="spacingAndGlyphs">8</text><text x="386.3" y="191.8" textLength="7" lengthAdjust="spacingAndGlyphs">9</text><text x="435.7" y="191.8" textLength="7" lengthAdjust="spacingAndGlyphs">9</text><text x="485.1" y="191.8" textLength="7" lengthAdjust="spacingAndGlyphs">6</text><text x="781.9" y="191.8" textLength="14" lengthAdjust="spacingAndGlyphs">14</text><text x="831.3" y="191.8" textLength="14" lengthAdjust="spacingAndGlyphs">14</text><text x="880.7" y="191.8" textLength="14" lengthAdjust="spacingAndGlyphs">14</text><text x="931.0" y="191.8" text-anchor="end" textLength="14" lengthAdjust="spacingAndGlyphs">12</text><text x="44.0" y="219.8" text-anchor="start" textLength="14" lengthAdjust="spacingAndGlyphs">10</text><text x="337.4" y="219.8" textLength="14" lengthAdjust="spacingAndGlyphs">10</text><text x="386.8" y="219.8" textLength="14" lengthAdjust="spacingAndGlyphs">11</text><text x="436.2" y="219.8" textLength="14" lengthAdjust="spacingAndGlyphs">11</text><text x="485.6" y="219.8" textLength="14" lengthAdjust="spacingAndGlyphs">12</text><text x="535.0" y="219.8" textLength="14" lengthAdjust="spacingAndGlyphs">16</text><text x="732.5" y="219.8" textLength="14" lengthAdjust="spacingAndGlyphs">16</text><text x="781.9" y="219.8" textLength="14" lengthAdjust="spacingAndGlyphs">13</text><text x="831.3" y="219.8" textLength="14" lengthAdjust="spacingAndGlyphs">13</text><text x="880.7" y="219.8" textLength="14" lengthAdjust="spacingAndGlyphs">13</text><text x="931.0" y="219.8" text-anchor="end" textLength="14" lengthAdjust="spacingAndGlyphs">10</text><text x="386.8" y="533.8" textLength="14" lengthAdjust="spacingAndGlyphs">12</text><text x="633.8" y="533.8" textLength="14" lengthAdjust="spacingAndGlyphs">14</text><text x="683.2" y="533.8" textLength="14" lengthAdjust="spacingAndGlyphs">17</text><text x="732.5" y="533.8" textLength="14" lengthAdjust="spacingAndGlyphs">17</text><text x="781.9" y="533.8" textLength="14" lengthAdjust="spacingAndGlyphs">10</text><text x="880.7" y="533.8" textLength="14" lengthAdjust="spacingAndGlyphs">10</text><text x="89.9" y="561.8" textLength="7" lengthAdjust="spacingAndGlyphs">4</text><text x="139.3" y="561.8" textLength="7" lengthAdjust="spacingAndGlyphs">2</text><text x="188.7" y="561.8" textLength="7" lengthAdjust="spacingAndGlyphs">3</text><text x="288.0" y="561.8" textLength="14" lengthAdjust="spacingAndGlyphs">11</text><text x="732.0" y="561.8" textLength="7" lengthAdjust="spacingAndGlyphs">6</text><text x="880.2" y="561.8" textLength="7" lengthAdjust="spacingAndGlyphs">4</text><text x="976" y="135.8" textLength="7" lengthAdjust="spacingAndGlyphs">3</text><text x="976" y="163.8" textLength="7" lengthAdjust="spacingAndGlyphs">5</text><text x="976" y="192.8" textLength="14" lengthAdjust="spacingAndGlyphs">13</text><text x="976" y="220.8" textLength="14" lengthAdjust="spacingAndGlyphs">13</text><text x="976" y="249.8" textLength="14" lengthAdjust="spacingAndGlyphs">14</text><text x="976" y="277.8" textLength="14" lengthAdjust="spacingAndGlyphs">23</text><text x="976" y="306.8" textLength="14" lengthAdjust="spacingAndGlyphs">38</text><text x="976" y="334.8" textLength="14" lengthAdjust="spacingAndGlyphs">50</text><text x="976" y="363.8" textLength="14" lengthAdjust="spacingAndGlyphs">46</text><text x="976" y="391.8" textLength="14" lengthAdjust="spacingAndGlyphs">51</text><text x="976" y="420.8" textLength="14" lengthAdjust="spacingAndGlyphs">49</text><text x="976" y="448.8" textLength="14" lengthAdjust="spacingAndGlyphs">42</text><text x="976" y="477.8" textLength="14" lengthAdjust="spacingAndGlyphs">29</text><text x="976" y="505.8" textLength="14" lengthAdjust="spacingAndGlyphs">17</text><text x="976" y="534.8" textLength="14" lengthAdjust="spacingAndGlyphs">13</text><text x="976" y="562.8" textLength="7" lengthAdjust="spacingAndGlyphs">5</text></g>
<g font-family="Liberation Sans, sans-serif" font-size="14" font-weight="bold" fill="#000"><text x="45.0" y="655" text-anchor="middle" textLength="27.0" lengthAdjust="spacingAndGlyphs">30°E</text><text x="118.3" y="655" text-anchor="middle" textLength="27.0" lengthAdjust="spacingAndGlyphs">60°E</text><text x="191.7" y="655" text-anchor="middle" textLength="27.0" lengthAdjust="spacingAndGlyphs">90°E</text><text x="265.0" y="655" text-anchor="middle" textLength="32.7" lengthAdjust="spacingAndGlyphs">120°E</text><text x="338.4" y="655" text-anchor="middle" textLength="32.5" lengthAdjust="spacingAndGlyphs">150°E</text><text x="411.8" y="655" text-anchor="middle" textLength="24.6" lengthAdjust="spacingAndGlyphs">180°</text><text x="485.1" y="655" text-anchor="middle" textLength="38.2" lengthAdjust="spacingAndGlyphs">150°W</text><text x="558.4" y="655" text-anchor="middle" textLength="38.2" lengthAdjust="spacingAndGlyphs">120°W</text><text x="631.8" y="655" text-anchor="middle" textLength="32.4" lengthAdjust="spacingAndGlyphs">90°W</text><text x="705.1" y="655" text-anchor="middle" textLength="32.4" lengthAdjust="spacingAndGlyphs">60°W</text><text x="778.5" y="655" text-anchor="middle" textLength="32.4" lengthAdjust="spacingAndGlyphs">30°W</text><text x="851.8" y="655" text-anchor="middle" textLength="11.0" lengthAdjust="spacingAndGlyphs">0°</text><text x="925.2" y="655" text-anchor="middle" textLength="27.0" lengthAdjust="spacingAndGlyphs">30°E</text><text x="28.5" y="120.0" text-anchor="end" textLength="27.3" lengthAdjust="spacingAndGlyphs">90°N</text><text x="28.5" y="205.7" text-anchor="end" textLength="27.3" lengthAdjust="spacingAndGlyphs">60°N</text><text x="28.5" y="291.3" text-anchor="end" textLength="27.3" lengthAdjust="spacingAndGlyphs">30°N</text><text x="28.5" y="377.0" text-anchor="end" textLength="11.0" lengthAdjust="spacingAndGlyphs">0°</text><text x="28.5" y="462.7" text-anchor="end" textLength="27.3" lengthAdjust="spacingAndGlyphs">30°S</text><text x="28.5" y="548.3" text-anchor="end" textLength="27.3" lengthAdjust="spacingAndGlyphs">60°S</text><text x="28.5" y="634.0" text-anchor="end" textLength="27.3" lengthAdjust="spacingAndGlyphs">90°S</text></g>
<g font-family="Liberation Sans, sans-serif" fill="#000"><text x="486" y="28.3" text-anchor="middle" font-size="18.67" font-weight="bold" textLength="77" lengthAdjust="spacingAndGlyphs">Cumulus</text><text x="486" y="50" text-anchor="middle" font-size="14.67" font-weight="bold" textLength="207" lengthAdjust="spacingAndGlyphs">Frequency of Occurrence (%)</text><text x="44.5" y="99" font-size="13.33" textLength="140" lengthAdjust="spacingAndGlyphs">April (1954 - 1997) Night</text><text x="926.5" y="99" text-anchor="end" font-size="13.33" textLength="135.5" lengthAdjust="spacingAndGlyphs">Ship Observations Only</text><text x="975.5" y="97" text-anchor="middle" font-size="9.33">ZONAL</text><text x="976.5" y="109.5" text-anchor="middle" font-size="9.33">AVERAGE</text><text x="485.5" y="687" text-anchor="middle" font-size="13.33" textLength="230.5" lengthAdjust="spacingAndGlyphs">GLOBAL AVERAGE (OCEAN)   32.4 %</text><text x="485" y="720" text-anchor="middle" font-size="13.33" textLength="476.5" lengthAdjust="spacingAndGlyphs">(File name = 19_OMMF.04.low, MGRP = 19035, TYPE = 14, PCODE = 2, SN = 4)</text></g>
</svg>
</body></html>
